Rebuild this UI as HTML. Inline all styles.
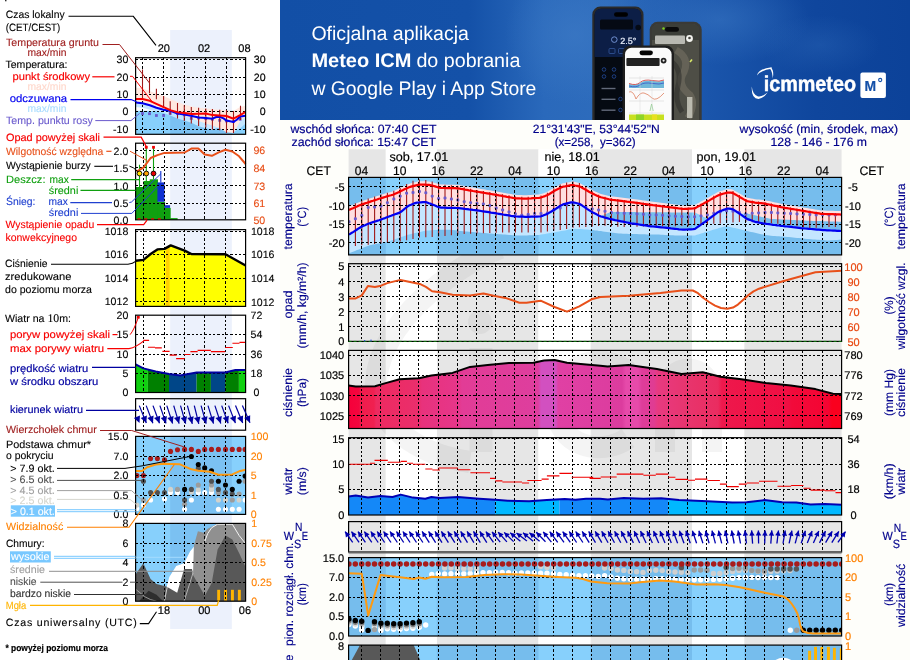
<!DOCTYPE html>
<html lang="pl"><head><meta charset="utf-8"><title>Meteogram ICM</title>
<style>
html,body{margin:0;padding:0;background:#fff;}
body{width:910px;height:660px;overflow:hidden;font-family:"Liberation Sans",sans-serif;}
svg{display:block;font-family:"Liberation Sans",sans-serif;will-change:transform;text-rendering:geometricPrecision;}
</style></head><body>
<svg width="910" height="660" viewBox="0 0 910 660">
<rect x="0" y="0" width="280" height="660" fill="#fff"/>
<rect x="5.2" y="0" width="1.2" height="1.3" fill="#000"/>
<rect x="170.2" y="30" width="61.6" height="599" fill="#ecf1fc"/>
<text x="163.8" y="51.9" font-size="11" fill="#000" text-anchor="middle" font-weight="normal"  stroke="#000" stroke-width="0.18">20</text>
<text x="204.1" y="51.9" font-size="11" fill="#000" text-anchor="middle" font-weight="normal"  stroke="#000" stroke-width="0.18">02</text>
<text x="244.4" y="51.9" font-size="11" fill="#000" text-anchor="middle" font-weight="normal"  stroke="#000" stroke-width="0.18">08</text>
<text x="163.9" y="614.4" font-size="11" fill="#000" text-anchor="middle" font-weight="normal"  stroke="#000" stroke-width="0.18">18</text>
<text x="204.3" y="614.4" font-size="11" fill="#000" text-anchor="middle" font-weight="normal"  stroke="#000" stroke-width="0.18">00</text>
<text x="244.9" y="614.4" font-size="11" fill="#000" text-anchor="middle" font-weight="normal"  stroke="#000" stroke-width="0.18">06</text>
<clipPath id="l1"><rect x="135.6" y="57.7" width="110.0" height="76.6"/></clipPath>
<g clip-path="url(#l1)">
<rect x="135.6" y="110.8" width="110.0" height="30" fill="#87d0fc"/>
<rect x="170.2" y="110.8" width="61.6" height="23.5" fill="#1040a0" opacity="0.1"/>
<path d="M135.5,102.5 L149.8,105.2 L163.6,109.8 L177.5,113.5 L192.0,116.0 L205.8,118.0 L219.7,116.8 L233.5,122.0 L245.8,115.7 L245.8,123.6 L240.1,128.2 L233.5,131.9 L227.6,131.5 L223.6,129.6 L219.7,127.2 L216.4,128.2 L212.4,129.6 L205.8,128.2 L198.6,126.3 L192.0,123.0 L184.3,120.6 L177.5,118.4 L170.9,115.7 L163.6,113.1 L149.8,109.8 L142.5,107.8 L135.5,107.1Z" fill="#c4e6ff"/>
<path d="M135.6,87.4 L142.5,88.4 L163.6,95.9 L170.9,99.2 L177.5,101.9 L184.3,104.5 L192.0,106.5 L198.6,107.8 L205.8,108.5 L212.4,109.1 L219.7,109.8 L226.5,110.4 L233.5,111.1 L240.1,107.1 L245.8,105.8 L245.8,116.4 L240.1,121.6 L233.5,132.9 L226.5,132.2 L219.7,128.2 L212.4,125.6 L205.8,123.6 L198.6,121.0 L192.0,118.4 L184.3,115.7 L177.5,114.0 L163.6,110.4 L149.8,105.8 L142.5,103.8 L135.5,103.2Z" fill="#ffe8e0"/>
</g>
<path d="M142.5,57.7V134.3M163.5,57.7V134.3M184.5,57.7V134.3M205.5,57.7V134.3M226.5,57.7V134.3M135.6,59.5H245.6M135.6,77.5H245.6M135.6,94.5H245.6M135.6,111.5H245.6M135.6,129.5H245.6" stroke="#000" stroke-width="1" stroke-dasharray="2.3 2" fill="none" shape-rendering="crispEdges"/>
<g clip-path="url(#l1)">
<rect x="141.1" y="112.1" width="2.8" height="2.8" fill="#6a5acd"/>
<rect x="148.1" y="112.3" width="2.8" height="2.8" fill="#6a5acd"/>
<rect x="155.0" y="114.1" width="2.8" height="2.8" fill="#6a5acd"/>
<rect x="162.2" y="114.1" width="2.8" height="2.8" fill="#6a5acd"/>
<rect x="168.8" y="112.1" width="2.8" height="2.8" fill="#6a5acd"/>
<rect x="176.1" y="112.1" width="2.8" height="2.8" fill="#6a5acd"/>
<rect x="182.9" y="113.4" width="2.8" height="2.8" fill="#6a5acd"/>
<rect x="189.9" y="117.0" width="2.8" height="2.8" fill="#6a5acd"/>
<rect x="197.2" y="116.6" width="2.8" height="2.8" fill="#6a5acd"/>
<rect x="204.4" y="117.3" width="2.8" height="2.8" fill="#6a5acd"/>
<rect x="211.0" y="117.9" width="2.8" height="2.8" fill="#6a5acd"/>
<rect x="218.3" y="118.9" width="2.8" height="2.8" fill="#6a5acd"/>
<rect x="225.1" y="119.6" width="2.8" height="2.8" fill="#6a5acd"/>
<rect x="232.1" y="120.0" width="2.8" height="2.8" fill="#6a5acd"/>
<rect x="238.7" y="117.9" width="2.8" height="2.8" fill="#6a5acd"/>
<path d="M142.5,69.6V98.2M149.5,78.1V93.3M156.4,88.7V99.2M163.6,95.9V107.1M170.2,101.2V114.4M177.5,102.9V118.4M184.3,105.2V121.0M191.3,106.9V123.6M198.6,107.8V125.9M205.8,108.5V127.6M212.4,109.1V129.6M219.7,109.8V130.2M226.5,110.0V132.9M233.5,111.1V132.9M240.5,105.8V120.1" stroke="#a01818" stroke-width="1.1" fill="none"/>
<path d="M135.5,102.5 L142.5,103.2 L149.8,105.2 L156.4,107.8 L163.6,109.8 L170.9,111.1 L177.5,113.5 L184.3,114.4 L192.0,116.0 L198.6,117.4 L205.8,118.0 L212.4,118.7 L216.4,117.0 L219.7,116.8 L223.6,118.4 L226.5,120.6 L233.5,122.0 L236.8,119.7 L240.1,116.4 L245.8,115.7" stroke="#0000f0" stroke-width="2" fill="none" stroke-linejoin="round"/>
<path d="M135.5,99.0 L142.5,99.0 L149.8,100.8 L156.4,103.8 L163.6,107.1 L170.9,110.4 L177.5,112.2 L184.3,113.1 L192.0,114.1 L198.6,113.7 L205.8,113.5 L212.4,115.1 L219.7,115.5 L226.5,116.0 L233.5,118.7 L240.1,115.1 L245.8,111.8" stroke="#f80000" stroke-width="2" fill="none" stroke-linejoin="round"/>
</g>
<rect x="135.6" y="57.7" width="110.0" height="76.6" fill="none" stroke="#000" stroke-width="1.2"/>
<text x="128.3" y="62.6" font-size="10.6" fill="#000" text-anchor="end" font-weight="normal" stroke="#000" stroke-width="0.1">30</text>
<text x="265.6" y="62.6" font-size="10.6" fill="#000" text-anchor="end" font-weight="normal"  stroke="#000" stroke-width="0.18">30</text>
<text x="128.3" y="80.8" font-size="10.6" fill="#000" text-anchor="end" font-weight="normal" stroke="#000" stroke-width="0.1">20</text>
<text x="265.6" y="80.8" font-size="10.6" fill="#000" text-anchor="end" font-weight="normal"  stroke="#000" stroke-width="0.18">20</text>
<text x="128.3" y="97.6" font-size="10.6" fill="#000" text-anchor="end" font-weight="normal" stroke="#000" stroke-width="0.1">10</text>
<text x="265.6" y="97.6" font-size="10.6" fill="#000" text-anchor="end" font-weight="normal"  stroke="#000" stroke-width="0.18">10</text>
<text x="128.3" y="114.8" font-size="10.6" fill="#000" text-anchor="end" font-weight="normal" stroke="#000" stroke-width="0.1">0</text>
<text x="265.6" y="114.8" font-size="10.6" fill="#000" text-anchor="end" font-weight="normal"  stroke="#000" stroke-width="0.18">0</text>
<text x="128.3" y="132.8" font-size="10.6" fill="#000" text-anchor="end" font-weight="normal" stroke="#000" stroke-width="0.1">-10</text>
<text x="265.6" y="132.8" font-size="10.6" fill="#000" text-anchor="end" font-weight="normal"  stroke="#000" stroke-width="0.18">-10</text>
<rect x="135.6" y="187.0" width="8.4" height="32.8" fill="#10a010"/>
<rect x="143.4" y="181.0" width="6.9" height="38.8" fill="#10a010"/>
<rect x="149.7" y="179.3" width="8.3" height="40.5" fill="#10a010"/>
<rect x="157.4" y="201.8" width="7.7" height="18.0" fill="#10a010"/>
<rect x="164.5" y="207.9" width="6.2" height="11.9" fill="#10a010"/>
<rect x="170.1" y="218.1" width="7.5" height="1.7" fill="#10a010"/>
<rect x="157.4" y="182.4" width="7.1" height="19.4" fill="#1030d0"/>
<rect x="164.5" y="205.2" width="5.6" height="2.7" fill="#1030d0"/>
<path d="M143.5,143.2V219.8M164.5,143.2V219.8M184.5,143.2V219.8M204.5,143.2V219.8M225.5,143.2V219.8M135.6,150.5H245.6M135.6,167.5H245.6M135.6,185.5H245.6M135.6,203.5H245.6" stroke="#000" stroke-width="1" stroke-dasharray="2.3 2" fill="none" shape-rendering="crispEdges"/>
<path d="M139.5,164.8V187M146.3,147.8V181M153.5,147.8V179.3" stroke="#10a010" stroke-width="1.1" fill="none"/>
<path d="M160.8,171.1V182.4" stroke="#1030d0" stroke-width="1.1" fill="none"/>
<path d="M136.6,171.6 L143.4,167.7 L150.6,158.0 L157.4,155.1 L164.5,152.9 L184.6,152.5 L191.4,148.6 L198.3,148.6 L204.7,154.6 L211.9,155.8 L218.7,152.4 L225.5,149.8 L232.3,151.5 L239.1,156.3 L245.6,164.0" stroke="#e8501a" stroke-width="2" fill="none" stroke-linejoin="round"/>
<rect x="144.9" y="145.9" width="2.8" height="2.8" fill="#f00000"/><rect x="152.1" y="145.9" width="2.8" height="2.8" fill="#f00000"/>
<circle cx="139.5" cy="173.5" r="2.4" fill="#ffe600" stroke="#000" stroke-width="0.9"/>
<circle cx="146.3" cy="173.5" r="2.4" fill="#ffa200" stroke="#000" stroke-width="0.9"/>
<circle cx="153.5" cy="173.5" r="2.4" fill="#e80000" stroke="#000" stroke-width="0.9"/>
<rect x="135.6" y="143.2" width="110.0" height="76.6" fill="none" stroke="#000" stroke-width="1.2"/>
<path d="M137.5,218.9H163" stroke="#f00000" stroke-width="1.3" stroke-dasharray="3 3.8" fill="none"/>
<text x="128.3" y="154.6" font-size="10.6" fill="#000" text-anchor="end" font-weight="normal" stroke="#000" stroke-width="0.1">2.0</text>
<text x="128.3" y="172.0" font-size="10.6" fill="#000" text-anchor="end" font-weight="normal" stroke="#000" stroke-width="0.1">1.5</text>
<text x="128.3" y="189.9" font-size="10.6" fill="#000" text-anchor="end" font-weight="normal" stroke="#000" stroke-width="0.1">1.0</text>
<text x="128.3" y="207.4" font-size="10.6" fill="#000" text-anchor="end" font-weight="normal" stroke="#000" stroke-width="0.1">0.5</text>
<text x="128.3" y="224.1" font-size="10.6" fill="#000" text-anchor="end" font-weight="normal" stroke="#000" stroke-width="0.1">0.0</text>
<text x="253.4" y="153.8" font-size="10.6" fill="#e84c14" text-anchor="start" font-weight="normal" stroke="#e84c14" stroke-width="0.1">96</text>
<text x="253.4" y="172.2" font-size="10.6" fill="#e84c14" text-anchor="start" font-weight="normal" stroke="#e84c14" stroke-width="0.1">84</text>
<text x="253.4" y="189.6" font-size="10.6" fill="#e84c14" text-anchor="start" font-weight="normal" stroke="#e84c14" stroke-width="0.1">73</text>
<text x="253.4" y="207.1" font-size="10.6" fill="#e84c14" text-anchor="start" font-weight="normal" stroke="#e84c14" stroke-width="0.1">61</text>
<text x="253.4" y="224.1" font-size="10.6" fill="#e84c14" text-anchor="start" font-weight="normal" stroke="#e84c14" stroke-width="0.1">50</text>
<path d="M135.6,260.8 L143.4,259.9 L150.6,254.0 L157.4,249.4 L164.5,248.9 L170.7,245.4 L184.6,250.6 L191.4,254.0 L225.5,254.3 L245.6,265.5 L245.6,306.4 L135.6,306.4Z" fill="#ffff00"/>
<path d="M165.9,248.3L169.6,246.2V306.4H165.9Z" fill="#ffd000"/>
<path d="M143.5,229.6V306.4M164.5,229.6V306.4M184.5,229.6V306.4M204.5,229.6V306.4M225.5,229.6V306.4M135.6,231.5H245.6M135.6,254.5H245.6M135.6,278.5H245.6M135.6,301.5H245.6" stroke="#000" stroke-width="1" stroke-dasharray="2.3 2" fill="none" shape-rendering="crispEdges"/>
<path d="M135.6,260.8 L143.4,259.9 L150.6,254.0 L157.4,249.4 L164.5,248.9 L170.7,245.4 L184.6,250.6 L191.4,254.0 L225.5,254.3 L245.6,265.5" stroke="#000" stroke-width="2.4" fill="none" stroke-linejoin="round"/>
<rect x="135.6" y="229.6" width="110.0" height="76.8" fill="none" stroke="#000" stroke-width="1.2"/>
<text x="128.3" y="234.8" font-size="10.6" fill="#000" text-anchor="end" font-weight="normal" stroke="#000" stroke-width="0.1">1018</text>
<text x="250.9" y="235.0" font-size="10.6" fill="#000" text-anchor="start" font-weight="normal" stroke="#000" stroke-width="0.1">1018</text>
<text x="128.3" y="258.1" font-size="10.6" fill="#000" text-anchor="end" font-weight="normal" stroke="#000" stroke-width="0.1">1016</text>
<text x="250.9" y="258.3" font-size="10.6" fill="#000" text-anchor="start" font-weight="normal" stroke="#000" stroke-width="0.1">1016</text>
<text x="128.3" y="281.9" font-size="10.6" fill="#000" text-anchor="end" font-weight="normal" stroke="#000" stroke-width="0.1">1014</text>
<text x="250.9" y="282.1" font-size="10.6" fill="#000" text-anchor="start" font-weight="normal" stroke="#000" stroke-width="0.1">1014</text>
<text x="128.3" y="305.3" font-size="10.6" fill="#000" text-anchor="end" font-weight="normal" stroke="#000" stroke-width="0.1">1012</text>
<text x="250.9" y="305.5" font-size="10.6" fill="#000" text-anchor="start" font-weight="normal" stroke="#000" stroke-width="0.1">1012</text>
<clipPath id="l4"><path d="M135.6,364.3 L143.4,368.4 L155.7,371.5 L169.0,374.1 L180.2,375.6 L196.6,372.5 L225.2,372.5 L235.4,370.0 L245.6,370.0 L245.6,392.5 L135.6,392.5Z"/></clipPath>
<g clip-path="url(#l4)">
<rect x="135.6" y="315.2" width="12.3" height="77.3" fill="#10d010"/>
<rect x="147.9" y="315.2" width="21.1" height="77.3" fill="#008000"/>
<rect x="169.0" y="315.2" width="27.6" height="77.3" fill="#004688"/>
<rect x="196.6" y="315.2" width="14.3" height="77.3" fill="#008000"/>
<rect x="210.9" y="315.2" width="14.3" height="77.3" fill="#004688"/>
<rect x="225.2" y="315.2" width="13.7" height="77.3" fill="#008000"/>
<rect x="238.9" y="315.2" width="6.7" height="77.3" fill="#10d010"/>
</g>
<path d="M143.5,315.2V392.5M164.5,315.2V392.5M184.5,315.2V392.5M204.5,315.2V392.5M225.5,315.2V392.5M135.6,334.5H245.6M135.6,354.5H245.6M135.6,373.5H245.6" stroke="#000" stroke-width="1" stroke-dasharray="2.3 2" fill="none" shape-rendering="crispEdges"/>
<path d="M135.6,364.3 L143.4,368.4 L155.7,371.5 L169.0,374.1 L180.2,375.6 L196.6,372.5 L225.2,372.5 L235.4,370.0 L245.6,370.0" stroke="#0000a0" stroke-width="2" fill="none" stroke-linejoin="round"/>
<path d="M143.4,340.4H149.1M147.9,347.2H155.0M155.0,347.9H161.8M162.4,351.4H169.6M169.6,355.1H176.7M176.1,358.6H184.7M184.3,354.5H190.4M190.4,351.6H197.6M197.6,350.4H210.9M210.9,351.6H225.2M225.2,347.5H232.8M232.4,343.2H239.5M239.5,342.4H245.6" stroke="#f00000" stroke-width="1.1" fill="none"/>
<rect x="136.9" y="316" width="2.8" height="2.6" fill="#f00000"/>
<rect x="135.6" y="315.2" width="110.0" height="77.3" fill="none" stroke="#000" stroke-width="1.2"/>
<text x="128.3" y="318.9" font-size="10.6" fill="#000" text-anchor="end" font-weight="normal" stroke="#000" stroke-width="0.1">20</text>
<text x="128.3" y="337.6" font-size="10.6" fill="#000" text-anchor="end" font-weight="normal" stroke="#000" stroke-width="0.1">15</text>
<text x="128.3" y="358.1" font-size="10.6" fill="#000" text-anchor="end" font-weight="normal" stroke="#000" stroke-width="0.1">10</text>
<text x="128.3" y="376.9" font-size="10.6" fill="#000" text-anchor="end" font-weight="normal" stroke="#000" stroke-width="0.1">5</text>
<text x="128.3" y="395.9" font-size="10.6" fill="#000" text-anchor="end" font-weight="normal" stroke="#000" stroke-width="0.1">0</text>
<text x="250.6" y="318.9" font-size="10.6" fill="#000" text-anchor="start" font-weight="normal" stroke="#000" stroke-width="0.1">72</text>
<text x="250.6" y="338.3" font-size="10.6" fill="#000" text-anchor="start" font-weight="normal" stroke="#000" stroke-width="0.1">54</text>
<text x="250.6" y="358.2" font-size="10.6" fill="#000" text-anchor="start" font-weight="normal" stroke="#000" stroke-width="0.1">36</text>
<text x="250.6" y="376.8" font-size="10.6" fill="#000" text-anchor="start" font-weight="normal" stroke="#000" stroke-width="0.1">18</text>
<text x="253.6" y="396.0" font-size="10.6" fill="#000" text-anchor="start" font-weight="normal" stroke="#000" stroke-width="0.1">0</text>
<path d="M143.5,398.7V430.2M164.5,398.7V430.2M184.5,398.7V430.2M204.5,398.7V430.2M225.5,398.7V430.2" stroke="#000" stroke-width="1" stroke-dasharray="2.3 2" fill="none" shape-rendering="crispEdges"/>
<rect x="135.6" y="398.7" width="110.0" height="31.5" fill="none" stroke="#000" stroke-width="1.2"/>
<path d="M139.5,423.0L133.9,418.0L140.0,415.5Z" fill="#0000a0"/>
<path d="M139.3,405.6L146.3,423.0" stroke="#0000a0" stroke-width="1.2"/>
<path d="M146.3,423.0L140.7,418.0L146.9,415.5Z" fill="#0000a0"/>
<path d="M146.2,405.6L152.9,423.2" stroke="#0000a0" stroke-width="1.2"/>
<path d="M152.9,423.2L147.4,418.0L153.6,415.6Z" fill="#0000a0"/>
<path d="M153.0,405.6L159.5,423.3" stroke="#0000a0" stroke-width="1.2"/>
<path d="M159.5,423.3L154.0,418.0L160.2,415.7Z" fill="#0000a0"/>
<path d="M159.9,405.6L166.0,423.4" stroke="#0000a0" stroke-width="1.2"/>
<path d="M166.0,423.4L160.7,418.0L166.9,415.9Z" fill="#0000a0"/>
<path d="M166.8,405.6L172.6,423.5" stroke="#0000a0" stroke-width="1.2"/>
<path d="M172.6,423.5L167.3,418.0L173.6,416.0Z" fill="#0000a0"/>
<path d="M173.7,405.6L179.1,423.6" stroke="#0000a0" stroke-width="1.2"/>
<path d="M179.1,423.6L174.0,418.0L180.3,416.1Z" fill="#0000a0"/>
<path d="M180.5,405.6L185.7,423.7" stroke="#0000a0" stroke-width="1.2"/>
<path d="M185.7,423.7L180.7,418.0L187.0,416.2Z" fill="#0000a0"/>
<path d="M187.4,405.6L192.3,423.8" stroke="#0000a0" stroke-width="1.2"/>
<path d="M192.3,423.8L187.3,418.0L193.7,416.3Z" fill="#0000a0"/>
<path d="M194.3,405.6L198.8,423.8" stroke="#0000a0" stroke-width="1.2"/>
<path d="M198.8,423.8L194.0,418.0L200.4,416.4Z" fill="#0000a0"/>
<path d="M201.1,405.6L206.1,423.7" stroke="#0000a0" stroke-width="1.2"/>
<path d="M206.1,423.7L201.1,418.0L207.5,416.3Z" fill="#0000a0"/>
<path d="M208.0,405.6L213.5,423.6" stroke="#0000a0" stroke-width="1.2"/>
<path d="M213.5,423.6L208.3,418.0L214.6,416.1Z" fill="#0000a0"/>
<path d="M214.9,405.6L220.8,423.5" stroke="#0000a0" stroke-width="1.2"/>
<path d="M220.8,423.5L215.5,418.0L221.8,416.0Z" fill="#0000a0"/>
<path d="M221.7,405.6L228.1,423.3" stroke="#0000a0" stroke-width="1.2"/>
<path d="M228.1,423.3L222.7,418.0L228.9,415.8Z" fill="#0000a0"/>
<path d="M228.6,405.6L235.4,423.1" stroke="#0000a0" stroke-width="1.2"/>
<path d="M235.4,423.1L229.9,418.0L236.0,415.6Z" fill="#0000a0"/>
<path d="M235.5,405.6L242.7,423.0" stroke="#0000a0" stroke-width="1.2"/>
<path d="M242.7,423.0L237.0,417.9L243.1,415.4Z" fill="#0000a0"/>
<path d="M242.4,405.6L250.0,422.8" stroke="#0000a0" stroke-width="1.2"/>
<path d="M250.0,422.8L244.2,417.9L250.2,415.2Z" fill="#0000a0"/>
<rect x="135.6" y="436.4" width="110.0" height="78.0" fill="#87d0fc"/>
<rect x="170.2" y="436.4" width="61.6" height="78.0" fill="#1040a0" opacity="0.1"/>
<clipPath id="l6"><rect x="135.6" y="436.4" width="110.0" height="78.0"/></clipPath>
<g clip-path="url(#l6)">
<circle cx="170.5" cy="492.6" r="2.55" fill="#fff"/>
<circle cx="177.5" cy="492.6" r="2.55" fill="#fff"/>
<circle cx="150.6" cy="500.0" r="2.55" fill="#fff"/>
<circle cx="164.5" cy="499.1" r="2.55" fill="#fff"/>
<circle cx="191.4" cy="500.0" r="2.55" fill="#fff"/>
<circle cx="198.3" cy="492.6" r="2.55" fill="#fff"/>
<circle cx="204.7" cy="492.6" r="2.55" fill="#fff"/>
<circle cx="211.5" cy="492.6" r="2.55" fill="#fff"/>
<circle cx="143.4" cy="505.1" r="2.55" fill="#fff"/>
<circle cx="136.9" cy="508.5" r="2.55" fill="#fff"/>
<circle cx="184.6" cy="509.3" r="2.55" fill="#fff"/>
<circle cx="218.4" cy="509.3" r="2.55" fill="#fff"/>
<circle cx="225.5" cy="509.3" r="2.55" fill="#fff"/>
<circle cx="232.3" cy="509.3" r="2.55" fill="#fff"/>
<circle cx="239.1" cy="509.3" r="2.55" fill="#fff"/>
<circle cx="245.1" cy="500.0" r="2.55" fill="#fff"/>
<circle cx="170.5" cy="489.4" r="2.55" fill="#d2d2cc"/>
<circle cx="198.3" cy="489.7" r="2.55" fill="#d2d2cc"/>
<circle cx="211.5" cy="489.4" r="2.55" fill="#d2d2cc"/>
<circle cx="218.4" cy="500.0" r="2.55" fill="#d2d2cc"/>
<circle cx="225.5" cy="500.0" r="2.55" fill="#d2d2cc"/>
<circle cx="239.1" cy="500.0" r="2.55" fill="#d2d2cc"/>
<circle cx="136.9" cy="505.1" r="2.55" fill="#d2d2cc"/>
<circle cx="191.4" cy="492.0" r="2.55" fill="#d2d2cc"/>
<circle cx="211.5" cy="487.5" r="2.55" fill="#d2d2cc"/>
<circle cx="143.4" cy="500.0" r="2.55" fill="#9c9c9c"/>
<circle cx="177.5" cy="489.4" r="2.55" fill="#9c9c9c"/>
<circle cx="198.3" cy="485.0" r="2.55" fill="#9c9c9c"/>
<circle cx="211.5" cy="485.0" r="2.55" fill="#9c9c9c"/>
<circle cx="218.4" cy="492.6" r="2.55" fill="#9c9c9c"/>
<circle cx="239.1" cy="494.0" r="2.55" fill="#9c9c9c"/>
<circle cx="184.6" cy="504.2" r="2.55" fill="#9c9c9c"/>
<circle cx="232.3" cy="500.0" r="2.55" fill="#9c9c9c"/>
<circle cx="245.1" cy="481.2" r="2.55" fill="#9c9c9c"/>
<circle cx="143.4" cy="481.2" r="2.55" fill="#505050"/>
<circle cx="150.6" cy="492.6" r="2.55" fill="#505050"/>
<circle cx="157.4" cy="492.6" r="2.55" fill="#505050"/>
<circle cx="164.5" cy="492.6" r="2.55" fill="#505050"/>
<circle cx="191.4" cy="489.4" r="2.55" fill="#505050"/>
<circle cx="211.5" cy="481.2" r="2.55" fill="#505050"/>
<circle cx="218.4" cy="489.4" r="2.55" fill="#505050"/>
<circle cx="225.5" cy="492.6" r="2.55" fill="#505050"/>
<circle cx="232.3" cy="494.0" r="2.55" fill="#505050"/>
<circle cx="184.6" cy="500.0" r="2.55" fill="#505050"/>
<circle cx="198.3" cy="468.4" r="2.55" fill="#505050"/>
<circle cx="191.4" cy="456.5" r="2.55" fill="#000"/>
<circle cx="198.3" cy="464.5" r="2.55" fill="#000"/>
<circle cx="204.7" cy="467.9" r="2.55" fill="#000"/>
<circle cx="211.5" cy="470.7" r="2.55" fill="#000"/>
<circle cx="218.4" cy="481.2" r="2.55" fill="#000"/>
<circle cx="225.5" cy="485.0" r="2.55" fill="#000"/>
<circle cx="232.3" cy="489.4" r="2.55" fill="#000"/>
<circle cx="239.1" cy="481.2" r="2.55" fill="#000"/>
<circle cx="245.1" cy="476.1" r="2.55" fill="#000"/>
<circle cx="184.6" cy="489.4" r="2.55" fill="#000"/>
<circle cx="136.9" cy="475.6" r="2.55" fill="#a81c1c"/>
<circle cx="143.4" cy="475.6" r="2.55" fill="#a81c1c"/>
<circle cx="150.6" cy="458.6" r="2.55" fill="#a81c1c"/>
<circle cx="157.4" cy="458.6" r="2.55" fill="#a81c1c"/>
<circle cx="164.5" cy="459.9" r="2.55" fill="#a81c1c"/>
<circle cx="170.5" cy="451.4" r="2.55" fill="#a81c1c"/>
<circle cx="177.5" cy="449.7" r="2.55" fill="#a81c1c"/>
<circle cx="184.6" cy="449.4" r="2.55" fill="#a81c1c"/>
<circle cx="191.4" cy="449.4" r="2.55" fill="#a81c1c"/>
<circle cx="198.3" cy="451.4" r="2.55" fill="#a81c1c"/>
<circle cx="204.7" cy="449.4" r="2.55" fill="#a81c1c"/>
<circle cx="211.5" cy="449.4" r="2.55" fill="#a81c1c"/>
<circle cx="218.4" cy="449.4" r="2.55" fill="#a81c1c"/>
<circle cx="225.5" cy="449.4" r="2.55" fill="#a81c1c"/>
<circle cx="232.3" cy="449.4" r="2.55" fill="#a81c1c"/>
<circle cx="239.1" cy="449.4" r="2.55" fill="#a81c1c"/>
<circle cx="245.1" cy="449.4" r="2.55" fill="#a81c1c"/>
</g>
<path d="M143.5,436.4V514.4M164.5,436.4V514.4M184.5,436.4V514.4M204.5,436.4V514.4M225.5,436.4V514.4M135.6,456.5H245.6M135.6,475.5H245.6M135.6,495.5H245.6" stroke="#000" stroke-width="1" stroke-dasharray="2.3 2" fill="none" shape-rendering="crispEdges"/>
<path d="M135.6,471.0 L142.0,471.0 L147.1,467.2 L155.7,464.5 L164.5,463.8 L179.5,464.2 L191.4,469.3 L198.3,470.7 L210.2,471.8 L218.4,474.7 L232.3,474.4 L239.1,471.3 L245.6,469.8" stroke="#ff9a10" stroke-width="2" fill="none" stroke-linejoin="round"/>
<rect x="135.6" y="436.4" width="110.0" height="78.0" fill="none" stroke="#000" stroke-width="1.2"/>
<text x="128.3" y="440.3" font-size="10.6" fill="#000" text-anchor="end" font-weight="normal" stroke="#000" stroke-width="0.1">15.0</text>
<text x="128.3" y="460.3" font-size="10.6" fill="#000" text-anchor="end" font-weight="normal" stroke="#000" stroke-width="0.1">7.0</text>
<text x="128.3" y="478.9" font-size="10.6" fill="#000" text-anchor="end" font-weight="normal" stroke="#000" stroke-width="0.1">2.0</text>
<text x="128.3" y="498.9" font-size="10.6" fill="#000" text-anchor="end" font-weight="normal" stroke="#000" stroke-width="0.1">0.5</text>
<text x="128.3" y="518.1" font-size="10.6" fill="#000" text-anchor="end" font-weight="normal" stroke="#000" stroke-width="0.1">0.0</text>
<text x="250.7" y="440.1" font-size="10.6" fill="#ff8000" text-anchor="start" font-weight="normal" stroke="#ff8000" stroke-width="0.1">100</text>
<text x="250.7" y="460.2" font-size="10.6" fill="#ff8000" text-anchor="start" font-weight="normal" stroke="#ff8000" stroke-width="0.1">20</text>
<text x="250.7" y="479.3" font-size="10.6" fill="#ff8000" text-anchor="start" font-weight="normal" stroke="#ff8000" stroke-width="0.1">5</text>
<text x="250.7" y="499.2" font-size="10.6" fill="#ff8000" text-anchor="start" font-weight="normal" stroke="#ff8000" stroke-width="0.1">1</text>
<text x="250.7" y="518.1" font-size="10.6" fill="#ff8000" text-anchor="start" font-weight="normal" stroke="#ff8000" stroke-width="0.1">0</text>
<clipPath id="l7"><rect x="135.6" y="523.4" width="110.0" height="77.8"/></clipPath>
<g clip-path="url(#l7)">
<rect x="135.6" y="523.4" width="110.0" height="77.8" fill="#87d0fc"/>
<rect x="170.2" y="523.4" width="61.6" height="77.8" fill="#1040a0" opacity="0.1"/>
<path d="M164.4,601.6 L166.4,587.8 L169.3,577.0 L176.2,566.1 L184.1,563.2 L190.0,551.4 L194.9,545.5 L203.8,543.9 L207.7,533.6 L211.7,527.7 L217.6,524.2 L245.5,524.2 L245.5,601.6Z" fill="#fff"/>
<path d="M193.0,601.6 L193.0,575.0 L193.9,545.5 L197.9,531.3 L203.8,532.7 L207.7,528.7 L213.6,525.8 L217.6,523.4 L245.5,523.4 L245.5,601.6Z" fill="#909090"/>
<path d="M135.2,601.6 L135.2,575.0 L143.3,563.2 L150.6,578.9 L156.5,583.9 L166.4,586.4 L170.3,588.8 L177.2,592.7 L184.1,569.1 L192.0,569.1 L193.0,575.0 L204.8,595.7 L211.7,582.9 L217.6,549.4 L225.5,535.6 L232.3,539.5 L239.2,553.3 L245.5,567.1 L245.5,601.6Z" fill="#585858"/>
<path d="M138.8,601.6 L148.6,590.8 L156.5,594.7 L163.4,601.6Z" fill="#2e2e2e"/>
<path d="M203.8,543.9 L207.7,533.6 L211.7,527.7 L217.6,524.2 L232.3,524.2 L239.2,535.6 L245.5,543.5" stroke="#fff" stroke-width="0.9" fill="none"/>
<path d="M135.2,588.8 L144.7,596.7 L150.6,599.6 L156.5,601.2" stroke="#b0b0b0" stroke-width="0.8" fill="none"/>
<path d="M184.1,601.2 L188.0,588.8 L193.0,573.0" stroke="#c8c8c8" stroke-width="0.8" fill="none"/>
<path d="M164.4,601.2 L167.3,586.8" stroke="#e8e8e8" stroke-width="0.8" fill="none"/>
<rect x="217.2" y="589.8" width="2.9" height="11" fill="#ffb400"/>
<rect x="224.1" y="589.8" width="2.9" height="11" fill="#ffb400"/>
<rect x="231.0" y="589.8" width="2.9" height="11" fill="#ffb400"/>
<rect x="237.9" y="589.8" width="2.9" height="11" fill="#ffb400"/>
</g>
<path d="M143.5,523.4V601.2M164.5,523.4V601.2M184.5,523.4V601.2M204.5,523.4V601.2M225.5,523.4V601.2M135.6,543.5H245.6M135.6,562.5H245.6M135.6,582.5H245.6" stroke="#000" stroke-width="1" stroke-dasharray="2.3 2" fill="none" shape-rendering="crispEdges"/>
<rect x="135.6" y="523.4" width="110.0" height="77.8" fill="none" stroke="#000" stroke-width="1.2"/>
<text x="128.3" y="527.3" font-size="10.6" fill="#000" text-anchor="end" font-weight="normal" stroke="#000" stroke-width="0.1">8</text>
<text x="128.3" y="546.9" font-size="10.6" fill="#000" text-anchor="end" font-weight="normal" stroke="#000" stroke-width="0.1">6</text>
<text x="128.3" y="566.1" font-size="10.6" fill="#000" text-anchor="end" font-weight="normal" stroke="#000" stroke-width="0.1">4</text>
<text x="128.3" y="585.9" font-size="10.6" fill="#000" text-anchor="end" font-weight="normal" stroke="#000" stroke-width="0.1">2</text>
<text x="128.3" y="604.8" font-size="10.6" fill="#000" text-anchor="end" font-weight="normal" stroke="#000" stroke-width="0.1">0</text>
<text x="251.2" y="527.3" font-size="10.6" fill="#ff8000" text-anchor="start" font-weight="normal" stroke="#ff8000" stroke-width="0.1">1</text>
<text x="251.2" y="547.0" font-size="10.6" fill="#ff8000" text-anchor="start" font-weight="normal" stroke="#ff8000" stroke-width="0.1">0.75</text>
<text x="251.2" y="566.3" font-size="10.6" fill="#ff8000" text-anchor="start" font-weight="normal" stroke="#ff8000" stroke-width="0.1">0.5</text>
<text x="251.2" y="586.0" font-size="10.6" fill="#ff8000" text-anchor="start" font-weight="normal" stroke="#ff8000" stroke-width="0.1">0.25</text>
<text x="251.2" y="604.7" font-size="10.6" fill="#ff8000" text-anchor="start" font-weight="normal" stroke="#ff8000" stroke-width="0.1">0</text>
<text x="5.8" y="18.0" font-size="10.6" fill="#000" text-anchor="start" font-weight="normal" textLength="58.8" lengthAdjust="spacingAndGlyphs"  stroke="#000" stroke-width="0.1">Czas lokalny</text>
<text x="5.8" y="30.5" font-size="10.6" fill="#000" text-anchor="start" font-weight="normal" textLength="54.5" lengthAdjust="spacingAndGlyphs"  stroke="#000" stroke-width="0.1">(CET/CEST)</text>
<path d="M68.5,16.3H133.3L156,45.4" stroke="#000" stroke-width="1.1" fill="none"/>
<text x="6.0" y="45.8" font-size="10.6" fill="#a02020" text-anchor="start" font-weight="normal" textLength="93.0" lengthAdjust="spacingAndGlyphs"  stroke="#a02020" stroke-width="0.1">Temperatura gruntu</text>
<text x="27.5" y="56.0" font-size="10.6" fill="#a02020" text-anchor="start" font-weight="normal" textLength="39.0" lengthAdjust="spacingAndGlyphs"  stroke="#a02020" stroke-width="0.1">max/min</text>
<path d="M102.5,44.5H119.5L149.5,83" stroke="#a02020" stroke-width="1.0" fill="none"/>
<text x="5.5" y="68.0" font-size="10.6" fill="#000" text-anchor="start" font-weight="normal" textLength="62.0" lengthAdjust="spacingAndGlyphs"  stroke="#000" stroke-width="0.1">Temperatura:</text>
<text x="12.5" y="80.2" font-size="10.6" fill="#f80000" text-anchor="start" font-weight="normal" textLength="77.5" lengthAdjust="spacingAndGlyphs"  stroke="#f80000" stroke-width="0.16">punkt środkowy</text>
<path d="M92.3,76.8H114.5" stroke="#f80000" stroke-width="1.2" fill="none"/>
<path d="M130,76.3H132.5L152.8,102.5" stroke="#f80000" stroke-width="1.0" fill="none"/>
<text x="27.5" y="89.7" font-size="10.6" fill="#ffd8cc" text-anchor="start" font-weight="normal" textLength="39.0" lengthAdjust="spacingAndGlyphs"  stroke="#ffd8cc" stroke-width="0.1">max/min</text>
<text x="9.7" y="101.8" font-size="10.6" fill="#0000f0" text-anchor="start" font-weight="normal" textLength="57.5" lengthAdjust="spacingAndGlyphs"  stroke="#0000f0" stroke-width="0.16">odczuwana</text>
<path d="M70.5,99.6H131L136.5,101.8" stroke="#0000f0" stroke-width="1.1" fill="none"/>
<text x="27.5" y="112.2" font-size="10.6" fill="#a8dcff" text-anchor="start" font-weight="normal" textLength="39.0" lengthAdjust="spacingAndGlyphs"  stroke="#a8dcff" stroke-width="0.1">max/min</text>
<text x="6.0" y="123.8" font-size="10.6" fill="#6a5acd" text-anchor="start" font-weight="normal" textLength="86.8" lengthAdjust="spacingAndGlyphs"  stroke="#6a5acd" stroke-width="0.1">Temp. punktu rosy</text>
<path d="M95.3,120.6H131L139.5,113.5" stroke="#6a5acd" stroke-width="1.0" fill="none"/>
<text x="6.0" y="140.8" font-size="10.6" fill="#f80000" text-anchor="start" font-weight="normal" textLength="94.0" lengthAdjust="spacingAndGlyphs"  stroke="#f80000" stroke-width="0.16">Opad powyżej skali</text>
<path d="M103.5,137.2H141.2L146.3,146.6" stroke="#f80000" stroke-width="1.2" fill="none"/>
<text x="6.0" y="154.7" font-size="10.6" fill="#e8501a" text-anchor="start" font-weight="normal" textLength="97.3" lengthAdjust="spacingAndGlyphs"  stroke="#e8501a" stroke-width="0.1">Wilgotność względna</text>
<path d="M106.3,151.3H111.5" stroke="#e8501a" stroke-width="1.2" fill="none"/>
<path d="M130,151.2L147,160.5" stroke="#e8501a" stroke-width="1.0" fill="none"/>
<text x="6.0" y="169.3" font-size="10.6" fill="#000" text-anchor="start" font-weight="normal" textLength="84.8" lengthAdjust="spacingAndGlyphs"  stroke="#000" stroke-width="0.1">Wystąpienie burzy</text>
<path d="M94.3,166.3H113" stroke="#000" stroke-width="1.1" fill="none"/>
<path d="M129.5,166.2Q133,166.6 137.8,171.6" stroke="#000" stroke-width="1.0" fill="none"/>
<text x="6.0" y="183.0" font-size="10.6" fill="#10a010" text-anchor="start" font-weight="normal" textLength="39.5" lengthAdjust="spacingAndGlyphs"  stroke="#10a010" stroke-width="0.1">Deszcz:</text>
<text x="49.5" y="183.0" font-size="10.6" fill="#10a010" text-anchor="start" font-weight="normal" textLength="19.3" lengthAdjust="spacingAndGlyphs"  stroke="#10a010" stroke-width="0.1">max</text>
<path d="M71.2,179.6H139.5" stroke="#10a010" stroke-width="1.1" fill="none"/>
<text x="48.8" y="193.8" font-size="10.6" fill="#10a010" text-anchor="start" font-weight="normal" textLength="29.5" lengthAdjust="spacingAndGlyphs"  stroke="#10a010" stroke-width="0.1">średni</text>
<path d="M80.5,190.4H135.6" stroke="#10a010" stroke-width="1.1" fill="none"/>
<text x="6.0" y="205.2" font-size="10.6" fill="#2040d0" text-anchor="start" font-weight="normal" textLength="29.5" lengthAdjust="spacingAndGlyphs"  stroke="#2040d0" stroke-width="0.1">Śnieg:</text>
<text x="48.5" y="205.2" font-size="10.6" fill="#2040d0" text-anchor="start" font-weight="normal" textLength="19.3" lengthAdjust="spacingAndGlyphs"  stroke="#2040d0" stroke-width="0.1">max</text>
<path d="M70.3,202.6H112" stroke="#2040d0" stroke-width="1.1" fill="none"/>
<path d="M129.3,202.6L131.5,202L160.8,173.8" stroke="#2040d0" stroke-width="1.0" fill="none"/>
<text x="48.8" y="215.8" font-size="10.6" fill="#2040d0" text-anchor="start" font-weight="normal" textLength="29.5" lengthAdjust="spacingAndGlyphs"  stroke="#2040d0" stroke-width="0.1">średni</text>
<path d="M81,213.4H131.8L158.2,186.1" stroke="#2040d0" stroke-width="1.0" fill="none"/>
<text x="5.5" y="228.0" font-size="10.6" fill="#f80000" text-anchor="start" font-weight="normal" textLength="88.7" lengthAdjust="spacingAndGlyphs"  stroke="#f80000" stroke-width="0.1">Wystąpienie opadu</text>
<text x="5.5" y="241.0" font-size="10.6" fill="#f80000" text-anchor="start" font-weight="normal" textLength="71.5" lengthAdjust="spacingAndGlyphs"  stroke="#f80000" stroke-width="0.1">konwekcyjnego</text>
<path d="M97,224.6H143.7L147.1,220.2" stroke="#f80000" stroke-width="1.2" fill="none"/>
<text x="5.0" y="267.2" font-size="10.6" fill="#000" text-anchor="start" font-weight="normal" textLength="42.5" lengthAdjust="spacingAndGlyphs"  stroke="#000" stroke-width="0.1">Ciśnienie</text>
<text x="5.0" y="280.2" font-size="10.6" fill="#000" text-anchor="start" font-weight="normal" textLength="66.5" lengthAdjust="spacingAndGlyphs"  stroke="#000" stroke-width="0.1">zredukowane</text>
<text x="5.0" y="293.0" font-size="10.6" fill="#000" text-anchor="start" font-weight="normal" textLength="87.0" lengthAdjust="spacingAndGlyphs"  stroke="#000" stroke-width="0.1">do poziomu morza</text>
<path d="M51,264.3H128Q133,263.6 135.6,261.4" stroke="#000" stroke-width="1.1" fill="none"/>
<text x="5" y="322.2" font-size="10.6" fill="#000" stroke="#000" stroke-width="0.1">Wiatr na <tspan style="font-family:Liberation Serif,serif" font-size="11.8">10</tspan>m:</text>
<text x="10.0" y="338.0" font-size="10.6" fill="#f80000" text-anchor="start" font-weight="normal" textLength="100.0" lengthAdjust="spacingAndGlyphs"  stroke="#f80000" stroke-width="0.16">poryw powyżej skali</text>
<path d="M112.5,334.6H117.5" stroke="#f80000" stroke-width="1.2" fill="none"/>
<path d="M130.1,334.7Q134,330 138.3,317.5" stroke="#f80000" stroke-width="1.0" fill="none"/>
<text x="10.0" y="351.8" font-size="10.6" fill="#f80000" text-anchor="start" font-weight="normal" textLength="94.2" lengthAdjust="spacingAndGlyphs"  stroke="#f80000" stroke-width="0.16">max porywy wiatru</text>
<path d="M107.3,348.6H129Q136,347.5 144.4,340.4" stroke="#f80000" stroke-width="1.1" fill="none"/>
<text x="10.0" y="371.8" font-size="10.6" fill="#0000a0" text-anchor="start" font-weight="normal" textLength="78.3" lengthAdjust="spacingAndGlyphs"  stroke="#0000a0" stroke-width="0.16">prędkość wiatru</text>
<path d="M92,367.4H135.6" stroke="#0000a0" stroke-width="1.2" fill="none"/>
<text x="10.0" y="384.7" font-size="10.6" fill="#0000a0" text-anchor="start" font-weight="normal" textLength="88.3" lengthAdjust="spacingAndGlyphs"  stroke="#0000a0" stroke-width="0.16">w środku obszaru</text>
<text x="10.0" y="413.0" font-size="10.6" fill="#0000a0" text-anchor="start" font-weight="normal" textLength="73.0" lengthAdjust="spacingAndGlyphs"  stroke="#0000a0" stroke-width="0.16">kierunek wiatru</text>
<path d="M86,410.3H139" stroke="#0000a0" stroke-width="1.2" fill="none"/>
<text x="6.0" y="433.0" font-size="10.6" fill="#a02020" text-anchor="start" font-weight="normal" textLength="90.7" lengthAdjust="spacingAndGlyphs"  stroke="#a02020" stroke-width="0.1">Wierzchołek chmur</text>
<path d="M100,430.5H131.7L183.8,446.8" stroke="#a02020" stroke-width="1.0" fill="none"/>
<text x="6.0" y="448.0" font-size="10.6" fill="#000" text-anchor="start" font-weight="normal" textLength="85.0" lengthAdjust="spacingAndGlyphs"  stroke="#000" stroke-width="0.1">Podstawa chmur*</text>
<text x="6.0" y="459.3" font-size="10.6" fill="#000" text-anchor="start" font-weight="normal" textLength="47.5" lengthAdjust="spacingAndGlyphs"  stroke="#000" stroke-width="0.1">o pokryciu</text>
<text x="10.3" y="471.8" font-size="10.6" fill="#000" text-anchor="start" font-weight="normal" textLength="44.5" lengthAdjust="spacingAndGlyphs"  stroke="#000" stroke-width="0.1">&gt; 7.9 okt.</text>
<path d="M57,468.4H125L142,465.9L189.7,456.5" stroke="#000" stroke-width="1.0" fill="none"/>
<text x="10.3" y="483.3" font-size="10.6" fill="#505050" text-anchor="start" font-weight="normal" textLength="44.5" lengthAdjust="spacingAndGlyphs"  stroke="#505050" stroke-width="0.1">&gt; 6.5 okt.</text>
<path d="M57,480.4H142" stroke="#505050" stroke-width="1.0" fill="none"/>
<text x="10.3" y="493.8" font-size="10.6" fill="#a0a0a0" text-anchor="start" font-weight="normal" textLength="44.5" lengthAdjust="spacingAndGlyphs"  stroke="#a0a0a0" stroke-width="0.1">&gt; 4.5 okt.</text>
<path d="M57,490.6H131.5L142,500" stroke="#a0a0a0" stroke-width="1.0" fill="none"/>
<text x="10.3" y="503.8" font-size="10.6" fill="#d6d6ce" text-anchor="start" font-weight="normal" textLength="44.5" lengthAdjust="spacingAndGlyphs"  stroke="#d6d6ce" stroke-width="0.1">&gt; 2.5 okt.</text>
<path d="M57,499.4H130L137,505" stroke="#d6d6ce" stroke-width="1.0" fill="none"/>
<rect x="10.8" y="505.3" width="44.2" height="11.4" fill="#78c8ff"/>
<text x="10.8" y="515.0" font-size="10.6" fill="#fff" text-anchor="start" font-weight="normal" textLength="44.0" lengthAdjust="spacingAndGlyphs"  stroke="#fff" stroke-width="0.1">&gt; 0.1 okt.</text>
<path d="M57,509.7H135.6M57,511.7H135.6" stroke="#78c8ff" stroke-width="1.0" fill="none"/>
<text x="6.0" y="529.7" font-size="10.6" fill="#ff8000" text-anchor="start" font-weight="normal" textLength="57.3" lengthAdjust="spacingAndGlyphs"  stroke="#ff8000" stroke-width="0.1">Widzialność</text>
<path d="M67,527.2H129L174.4,464.5" stroke="#ff8000" stroke-width="1.1" fill="none"/>
<text x="6.0" y="546.8" font-size="10.6" fill="#000" text-anchor="start" font-weight="normal" textLength="38.5" lengthAdjust="spacingAndGlyphs"  stroke="#000" stroke-width="0.1">Chmury:</text>
<rect x="10" y="551.3" width="40.8" height="11.2" fill="#78c8ff"/>
<text x="11.0" y="560.2" font-size="10.6" fill="#fff" text-anchor="start" font-weight="normal" textLength="38.5" lengthAdjust="spacingAndGlyphs"  stroke="#fff" stroke-width="0.1">wysokie</text>
<path d="M54,556.3H135.6M54,558.3H135.6" stroke="#78c8ff" stroke-width="1.0" fill="none"/>
<path d="M135.6,557.3H184" stroke="#a8dcff" stroke-width="0.9" fill="none"/>
<text x="10.0" y="573.0" font-size="10.6" fill="#a0a0a0" text-anchor="start" font-weight="normal" textLength="35.0" lengthAdjust="spacingAndGlyphs"  stroke="#a0a0a0" stroke-width="0.1">średnie</text>
<path d="M49,571.3H193" stroke="#909090" stroke-width="1.0" fill="none"/>
<text x="10.0" y="585.0" font-size="10.6" fill="#505050" text-anchor="start" font-weight="normal" textLength="26.5" lengthAdjust="spacingAndGlyphs"  stroke="#505050" stroke-width="0.1">niskie</text>
<path d="M40.3,582.2H122.5M130,582.2H136" stroke="#505050" stroke-width="1.0" fill="none"/>
<text x="10.0" y="596.8" font-size="10.6" fill="#303030" text-anchor="start" font-weight="normal" textLength="61.0" lengthAdjust="spacingAndGlyphs"  stroke="#303030" stroke-width="0.1">bardzo niskie</text>
<path d="M74,594.5H150" stroke="#303030" stroke-width="1.0" fill="none"/>
<text x="5.8" y="609.0" font-size="10.6" fill="#ffb400" text-anchor="start" font-weight="normal" textLength="20.4" lengthAdjust="spacingAndGlyphs"  stroke="#ffb400" stroke-width="0.1">Mgła</text>
<path d="M30,605.4H217.2L218.6,600.6" stroke="#ffb400" stroke-width="1.3" fill="none"/>
<text x="5.8" y="626.2" font-size="10.6" fill="#000" stroke="#000" stroke-width="0.1" textLength="131" lengthAdjust="spacing">Czas uniwersalny (UTC)</text>
<path d="M139.8,623.6H148.6L156.5,611.8" stroke="#000" stroke-width="1.1" fill="none"/>
<text x="5.4" y="650.8" font-size="9.3" fill="#000" text-anchor="start" font-weight="bold" textLength="102.6" lengthAdjust="spacingAndGlyphs"  stroke="#000" stroke-width="0.18">* powyżej poziomu morza</text>
<rect x="280" y="0" width="630" height="660" fill="#fefefa"/>
<rect x="348.6" y="149.3" width="37.2" height="511" fill="#e6e6e6"/>
<rect x="436.8" y="149.3" width="101.7" height="511" fill="#e6e6e6"/>
<rect x="590.4" y="149.3" width="101.6" height="511" fill="#e6e6e6"/>
<rect x="744.2" y="149.3" width="97.4" height="511" fill="#e6e6e6"/>
<rect x="385.8" y="149.3" width="51.0" height="511" fill="#ffffff"/>
<rect x="538.5" y="149.3" width="51.9" height="511" fill="#ffffff"/>
<rect x="692.0" y="149.3" width="52.2" height="511" fill="#ffffff"/>
<g opacity="0.04" fill="none" stroke="#000" stroke-linecap="butt"><clipPath id="cWM"><rect x="348.6" y="255" width="493.0" height="300"/></clipPath><g clip-path="url(#cWM)"><path d="M500,248C450,268 382,322 376,380C372,425 420,455 470,462" stroke-width="22"/><circle cx="480" cy="322" r="12" fill="#000" stroke="none"/><path d="M481,348V452" stroke-width="23"/><path d="M628,372C600,350 556,365 556,405C556,445 600,458 628,438" stroke-width="22"/><path d="M665,452V395C665,360 712,360 712,395V452" stroke-width="20"/></g></g>
<text x="363.4" y="132.6" font-size="12" fill="#00008b" text-anchor="middle" font-weight="normal" textLength="146.0" lengthAdjust="spacingAndGlyphs"  stroke="#00008b" stroke-width="0.18">wschód słońca: 07:40 CET</text>
<text x="363.8" y="145.6" font-size="12" fill="#00008b" text-anchor="middle" font-weight="normal" textLength="144.5" lengthAdjust="spacingAndGlyphs"  stroke="#00008b" stroke-width="0.18">zachód słońca: 15:47 CET</text>
<text x="596.2" y="132.6" font-size="12" fill="#00008b" text-anchor="middle" font-weight="normal" textLength="127.0" lengthAdjust="spacingAndGlyphs"  stroke="#00008b" stroke-width="0.18">21°31'43"E, 53°44'52"N</text>
<text x="595.2" y="145.6" font-size="12" fill="#00008b" text-anchor="middle" font-weight="normal" textLength="81.0" lengthAdjust="spacingAndGlyphs" xml:space="preserve" stroke="#00008b" stroke-width="0.18">(x=258,  y=362)</text>
<text x="818.8" y="132.6" font-size="12" fill="#00008b" text-anchor="middle" font-weight="normal" textLength="158.5" lengthAdjust="spacingAndGlyphs"  stroke="#00008b" stroke-width="0.18">wysokość (min, środek, max)</text>
<text x="818.8" y="145.6" font-size="12" fill="#00008b" text-anchor="middle" font-weight="normal" textLength="96.5" lengthAdjust="spacingAndGlyphs"  stroke="#00008b" stroke-width="0.18">128 - 146 - 176 m</text>
<text x="306.6" y="174.5" font-size="12.5" fill="#000" text-anchor="start" font-weight="normal" textLength="24.2" lengthAdjust="spacingAndGlyphs"  stroke="#000" stroke-width="0.18">CET</text>
<text x="859.4" y="174.5" font-size="12.5" fill="#000" text-anchor="start" font-weight="normal" textLength="24.6" lengthAdjust="spacingAndGlyphs"  stroke="#000" stroke-width="0.18">CET</text>
<text x="361.4" y="174.5" font-size="12.5" fill="#000" text-anchor="middle" font-weight="normal" textLength="13.4" lengthAdjust="spacingAndGlyphs"  stroke="#000" stroke-width="0.18">04</text>
<text x="399.8" y="174.5" font-size="12.5" fill="#000" text-anchor="middle" font-weight="normal" textLength="13.4" lengthAdjust="spacingAndGlyphs"  stroke="#000" stroke-width="0.18">10</text>
<text x="438.2" y="174.5" font-size="12.5" fill="#000" text-anchor="middle" font-weight="normal" textLength="13.4" lengthAdjust="spacingAndGlyphs"  stroke="#000" stroke-width="0.18">16</text>
<text x="476.6" y="174.5" font-size="12.5" fill="#000" text-anchor="middle" font-weight="normal" textLength="13.4" lengthAdjust="spacingAndGlyphs"  stroke="#000" stroke-width="0.18">22</text>
<text x="515.0" y="174.5" font-size="12.5" fill="#000" text-anchor="middle" font-weight="normal" textLength="13.4" lengthAdjust="spacingAndGlyphs"  stroke="#000" stroke-width="0.18">04</text>
<text x="553.4" y="174.5" font-size="12.5" fill="#000" text-anchor="middle" font-weight="normal" textLength="13.4" lengthAdjust="spacingAndGlyphs"  stroke="#000" stroke-width="0.18">10</text>
<text x="591.8" y="174.5" font-size="12.5" fill="#000" text-anchor="middle" font-weight="normal" textLength="13.4" lengthAdjust="spacingAndGlyphs"  stroke="#000" stroke-width="0.18">16</text>
<text x="630.2" y="174.5" font-size="12.5" fill="#000" text-anchor="middle" font-weight="normal" textLength="13.4" lengthAdjust="spacingAndGlyphs"  stroke="#000" stroke-width="0.18">22</text>
<text x="668.6" y="174.5" font-size="12.5" fill="#000" text-anchor="middle" font-weight="normal" textLength="13.4" lengthAdjust="spacingAndGlyphs"  stroke="#000" stroke-width="0.18">04</text>
<text x="707.0" y="174.5" font-size="12.5" fill="#000" text-anchor="middle" font-weight="normal" textLength="13.4" lengthAdjust="spacingAndGlyphs"  stroke="#000" stroke-width="0.18">10</text>
<text x="745.4" y="174.5" font-size="12.5" fill="#000" text-anchor="middle" font-weight="normal" textLength="13.4" lengthAdjust="spacingAndGlyphs"  stroke="#000" stroke-width="0.18">16</text>
<text x="783.8" y="174.5" font-size="12.5" fill="#000" text-anchor="middle" font-weight="normal" textLength="13.4" lengthAdjust="spacingAndGlyphs"  stroke="#000" stroke-width="0.18">22</text>
<text x="822.2" y="174.5" font-size="12.5" fill="#000" text-anchor="middle" font-weight="normal" textLength="13.4" lengthAdjust="spacingAndGlyphs"  stroke="#000" stroke-width="0.18">04</text>
<text x="389.4" y="161.3" font-size="12.6" fill="#000" text-anchor="start" font-weight="normal" textLength="58.8" lengthAdjust="spacingAndGlyphs"  stroke="#000" stroke-width="0.18">sob, 17.01</text>
<text x="544.4" y="161.3" font-size="12.6" fill="#000" text-anchor="start" font-weight="normal" textLength="55.3" lengthAdjust="spacingAndGlyphs"  stroke="#000" stroke-width="0.18">nie, 18.01</text>
<text x="696.5" y="161.3" font-size="12.6" fill="#000" text-anchor="start" font-weight="normal" textLength="59.5" lengthAdjust="spacingAndGlyphs"  stroke="#000" stroke-width="0.18">pon, 19.01</text>
<clipPath id="cT"><rect x="348.6" y="177.4" width="493.0" height="77.5"/></clipPath>
<g clip-path="url(#cT)">
<rect x="348.6" y="177.4" width="493.0" height="77.5" fill="#87d0fc"/>
<rect x="348.6" y="177.4" width="37.2" height="77.5" fill="#003a80" opacity="0.12"/>
<rect x="436.8" y="177.4" width="101.7" height="77.5" fill="#003a80" opacity="0.12"/>
<rect x="590.4" y="177.4" width="101.6" height="77.5" fill="#003a80" opacity="0.12"/>
<rect x="744.2" y="177.4" width="97.4" height="77.5" fill="#003a80" opacity="0.12"/>
<path d="M349.0,234.6 L351.0,233.3 L353.0,232.1 L355.0,230.8 L357.0,229.5 L359.0,228.2 L361.0,227.0 L363.0,226.0 L365.0,225.2 L367.0,224.3 L369.0,223.5 L371.0,222.7 L373.0,222.1 L375.0,221.5 L377.0,220.9 L379.0,220.3 L381.0,219.6 L383.0,218.8 L385.0,218.1 L387.0,217.3 L389.0,216.5 L391.0,215.8 L393.0,215.0 L395.0,214.3 L397.0,213.6 L399.0,212.9 L401.0,211.8 L403.0,210.2 L405.0,208.5 L407.0,206.8 L409.0,205.6 L411.0,204.8 L413.0,203.9 L415.0,203.1 L417.0,202.6 L419.0,202.5 L421.0,202.3 L423.0,202.1 L425.0,202.0 L427.0,202.4 L429.0,203.2 L431.0,203.9 L433.0,204.7 L435.0,205.5 L437.0,206.4 L439.0,207.2 L441.0,207.6 L443.0,207.7 L445.0,207.7 L447.0,207.8 L449.0,207.8 L451.0,207.8 L453.0,207.9 L455.0,207.9 L457.0,208.0 L459.0,208.2 L461.0,208.4 L463.0,208.6 L465.0,208.9 L467.0,209.1 L469.0,209.4 L471.0,209.6 L473.0,209.9 L475.0,210.1 L477.0,210.4 L479.0,210.7 L481.0,211.0 L483.0,211.3 L485.0,211.6 L487.0,211.9 L489.0,212.2 L491.0,212.6 L493.0,212.9 L495.0,213.2 L497.0,213.5 L499.0,213.8 L501.0,214.1 L503.0,214.5 L505.0,214.8 L507.0,215.1 L509.0,215.4 L511.0,215.8 L513.0,216.1 L515.0,216.4 L517.0,216.5 L519.0,216.6 L521.0,216.6 L523.0,216.7 L525.0,216.8 L527.0,216.8 L529.0,216.8 L531.0,216.7 L533.0,216.7 L535.0,216.6 L537.0,216.6 L539.0,216.5 L541.0,216.3 L543.0,215.6 L545.0,214.8 L547.0,214.1 L549.0,212.9 L551.0,211.7 L553.0,210.5 L555.0,209.3 L557.0,208.0 L559.0,206.7 L561.0,205.4 L563.0,204.4 L565.0,203.9 L567.0,203.4 L569.0,202.9 L571.0,202.4 L573.0,202.3 L575.0,202.8 L577.0,203.3 L579.0,203.8 L581.0,204.7 L583.0,206.1 L585.0,207.4 L587.0,208.8 L589.0,210.1 L591.0,211.4 L593.0,212.6 L595.0,213.6 L597.0,214.6 L599.0,215.7 L601.0,216.5 L603.0,217.0 L605.0,217.6 L607.0,218.1 L609.0,218.7 L611.0,219.2 L613.0,219.6 L615.0,220.1 L617.0,220.5 L619.0,220.9 L621.0,221.3 L623.0,221.7 L625.0,222.1 L627.0,222.5 L629.0,222.9 L631.0,223.3 L633.0,223.6 L635.0,223.9 L637.0,224.2 L639.0,224.5 L641.0,224.8 L643.0,225.1 L645.0,225.4 L647.0,225.7 L649.0,226.1 L651.0,226.3 L653.0,226.5 L655.0,226.7 L657.0,226.9 L659.0,227.1 L661.0,227.3 L663.0,227.5 L665.0,227.7 L667.0,227.9 L669.0,228.1 L671.0,228.4 L673.0,228.6 L675.0,228.8 L677.0,229.0 L679.0,229.3 L681.0,229.5 L683.0,229.7 L685.0,229.6 L687.0,229.5 L689.0,229.4 L691.0,229.3 L693.0,229.2 L695.0,228.8 L697.0,227.4 L699.0,226.0 L701.0,224.6 L703.0,223.2 L705.0,221.8 L707.0,220.3 L709.0,218.8 L711.0,217.3 L713.0,215.8 L715.0,214.3 L717.0,212.8 L719.0,211.6 L721.0,210.9 L723.0,210.1 L725.0,209.4 L727.0,208.6 L729.0,208.7 L731.0,208.9 L733.0,209.4 L735.0,210.7 L737.0,212.0 L739.0,213.3 L741.0,214.7 L743.0,216.1 L745.0,217.5 L747.0,218.9 L749.0,219.6 L751.0,220.3 L753.0,221.1 L755.0,221.8 L757.0,222.2 L759.0,222.6 L761.0,223.0 L763.0,223.4 L765.0,223.7 L767.0,224.0 L769.0,224.2 L771.0,224.5 L773.0,224.8 L775.0,225.0 L777.0,225.3 L779.0,225.5 L781.0,225.8 L783.0,226.0 L785.0,226.3 L787.0,226.5 L789.0,226.7 L791.0,226.9 L793.0,227.2 L795.0,227.4 L797.0,227.6 L799.0,227.8 L801.0,228.1 L803.0,228.3 L805.0,228.5 L807.0,228.6 L809.0,228.8 L811.0,229.0 L813.0,229.2 L815.0,229.4 L817.0,229.6 L819.0,229.7 L821.0,229.9 L823.0,230.1 L825.0,230.2 L827.0,230.3 L829.0,230.4 L831.0,230.5 L833.0,230.6 L835.0,230.7 L837.0,230.8 L839.0,230.9 L841.0,231.0 L841.0,239.5 L839.0,239.7 L837.0,239.9 L835.0,240.0 L833.0,240.2 L831.0,240.3 L829.0,240.5 L827.0,240.4 L825.0,240.2 L823.0,240.1 L821.0,239.9 L819.0,239.8 L817.0,239.7 L815.0,239.5 L813.0,239.4 L811.0,239.2 L809.0,239.1 L807.0,238.9 L805.0,238.7 L803.0,238.5 L801.0,238.3 L799.0,238.1 L797.0,237.9 L795.0,237.7 L793.0,237.5 L791.0,237.3 L789.0,237.1 L787.0,236.9 L785.0,236.8 L783.0,236.6 L781.0,236.5 L779.0,236.3 L777.0,236.2 L775.0,236.0 L773.0,235.9 L771.0,235.7 L769.0,235.5 L767.0,235.2 L765.0,234.8 L763.0,234.5 L761.0,234.2 L759.0,233.8 L757.0,233.3 L755.0,232.8 L753.0,232.3 L751.0,231.9 L749.0,231.4 L747.0,230.9 L745.0,230.4 L743.0,230.0 L741.0,229.5 L739.0,229.0 L737.0,228.6 L735.0,228.1 L733.0,227.7 L731.0,227.2 L729.0,226.8 L727.0,226.3 L725.0,226.4 L723.0,227.0 L721.0,227.5 L719.0,228.1 L717.0,228.7 L715.0,229.3 L713.0,229.8 L711.0,230.4 L709.0,231.0 L707.0,231.7 L705.0,232.3 L703.0,232.9 L701.0,233.6 L699.0,234.2 L697.0,234.8 L695.0,235.5 L693.0,235.6 L691.0,235.6 L689.0,235.6 L687.0,235.6 L685.0,235.6 L683.0,235.6 L681.0,235.6 L679.0,235.6 L677.0,235.5 L675.0,235.4 L673.0,235.3 L671.0,235.2 L669.0,235.1 L667.0,235.0 L665.0,234.9 L663.0,234.8 L661.0,234.7 L659.0,234.6 L657.0,234.6 L655.0,234.5 L653.0,234.5 L651.0,234.4 L649.0,234.4 L647.0,234.4 L645.0,234.3 L643.0,234.3 L641.0,234.2 L639.0,234.2 L637.0,234.1 L635.0,234.1 L633.0,234.0 L631.0,233.9 L629.0,233.9 L627.0,233.8 L625.0,233.8 L623.0,233.7 L621.0,233.6 L619.0,233.5 L617.0,233.2 L615.0,233.0 L613.0,232.7 L611.0,232.5 L609.0,232.2 L607.0,231.9 L605.0,231.7 L603.0,231.4 L601.0,231.1 L599.0,230.9 L597.0,230.6 L595.0,230.4 L593.0,230.1 L591.0,229.9 L589.0,229.7 L587.0,229.5 L585.0,229.4 L583.0,229.3 L581.0,229.1 L579.0,229.0 L577.0,228.9 L575.0,228.8 L573.0,228.9 L571.0,229.3 L569.0,229.6 L567.0,230.0 L565.0,230.4 L563.0,230.7 L561.0,231.1 L559.0,231.5 L557.0,231.8 L555.0,232.2 L553.0,232.5 L551.0,232.8 L549.0,233.2 L547.0,233.5 L545.0,233.9 L543.0,234.2 L541.0,234.6 L539.0,234.9 L537.0,235.0 L535.0,235.1 L533.0,235.2 L531.0,235.2 L529.0,235.3 L527.0,235.4 L525.0,235.4 L523.0,235.5 L521.0,235.5 L519.0,235.6 L517.0,235.5 L515.0,235.3 L513.0,235.2 L511.0,235.0 L509.0,234.9 L507.0,234.8 L505.0,234.6 L503.0,234.5 L501.0,234.3 L499.0,234.2 L497.0,234.0 L495.0,233.9 L493.0,233.7 L491.0,233.5 L489.0,233.4 L487.0,233.2 L485.0,233.1 L483.0,232.9 L481.0,232.7 L479.0,232.6 L477.0,232.4 L475.0,232.2 L473.0,232.1 L471.0,231.9 L469.0,231.7 L467.0,231.6 L465.0,231.4 L463.0,231.2 L461.0,231.1 L459.0,230.9 L457.0,230.6 L455.0,230.3 L453.0,230.1 L451.0,229.8 L449.0,229.7 L447.0,229.7 L445.0,229.7 L443.0,229.7 L441.0,229.7 L439.0,229.8 L437.0,229.9 L435.0,230.0 L433.0,230.1 L431.0,230.3 L429.0,230.4 L427.0,230.5 L425.0,230.8 L423.0,231.3 L421.0,231.7 L419.0,232.2 L417.0,232.6 L415.0,233.0 L413.0,233.5 L411.0,233.9 L409.0,234.4 L407.0,235.0 L405.0,235.7 L403.0,236.4 L401.0,237.1 L399.0,237.8 L397.0,238.5 L395.0,239.2 L393.0,239.9 L391.0,240.6 L389.0,241.3 L387.0,241.8 L385.0,242.2 L383.0,242.6 L381.0,243.0 L379.0,243.4 L377.0,243.8 L375.0,244.2 L373.0,244.6 L371.0,245.0 L369.0,245.4 L367.0,246.2 L365.0,247.0 L363.0,247.8 L361.0,248.6 L359.0,249.4 L357.0,250.1 L355.0,250.9 L353.0,251.7 L351.0,252.5 L349.0,253.3Z" fill="#c4e6ff"/>
<path d="M349.0,206.5 L351.0,205.6 L353.0,204.8 L355.0,203.9 L357.0,203.1 L359.0,202.2 L361.0,201.4 L363.0,200.7 L365.0,200.0 L367.0,199.4 L369.0,198.7 L371.0,198.0 L373.0,197.4 L375.0,196.7 L377.0,196.1 L379.0,195.4 L381.0,194.8 L383.0,194.2 L385.0,193.6 L387.0,193.0 L389.0,192.4 L391.0,191.9 L393.0,191.3 L395.0,190.4 L397.0,189.5 L399.0,188.6 L401.0,187.6 L403.0,186.7 L405.0,185.7 L407.0,184.8 L409.0,183.9 L411.0,183.2 L413.0,182.7 L415.0,182.2 L417.0,181.7 L419.0,181.2 L421.0,181.2 L423.0,181.2 L425.0,181.3 L427.0,181.4 L429.0,181.5 L431.0,181.9 L433.0,182.4 L435.0,183.0 L437.0,183.6 L439.0,184.2 L441.0,184.5 L443.0,184.6 L445.0,184.6 L447.0,184.7 L449.0,184.7 L451.0,184.7 L453.0,184.8 L455.0,184.8 L457.0,184.9 L459.0,185.1 L461.0,185.5 L463.0,185.8 L465.0,186.2 L467.0,186.5 L469.0,186.9 L471.0,187.2 L473.0,187.6 L475.0,187.9 L477.0,188.3 L479.0,188.6 L481.0,188.9 L483.0,189.3 L485.0,189.6 L487.0,189.9 L489.0,190.3 L491.0,190.6 L493.0,190.9 L495.0,191.3 L497.0,191.6 L499.0,192.0 L501.0,192.3 L503.0,192.7 L505.0,193.0 L507.0,193.4 L509.0,193.7 L511.0,194.1 L513.0,194.5 L515.0,194.8 L517.0,195.0 L519.0,195.0 L521.0,195.1 L523.0,195.2 L525.0,195.2 L527.0,195.3 L529.0,195.1 L531.0,195.0 L533.0,194.8 L535.0,194.7 L537.0,194.6 L539.0,194.4 L541.0,194.1 L543.0,193.4 L545.0,192.7 L547.0,191.9 L549.0,190.8 L551.0,189.6 L553.0,188.4 L555.0,187.2 L557.0,186.2 L559.0,185.2 L561.0,184.1 L563.0,183.3 L565.0,183.0 L567.0,182.6 L569.0,182.2 L571.0,181.8 L573.0,181.6 L575.0,182.1 L577.0,182.5 L579.0,182.9 L581.0,183.7 L583.0,184.9 L585.0,186.0 L587.0,187.1 L589.0,188.3 L591.0,189.4 L593.0,190.4 L595.0,191.4 L597.0,192.3 L599.0,193.2 L601.0,193.9 L603.0,194.4 L605.0,194.9 L607.0,195.4 L609.0,195.9 L611.0,196.3 L613.0,196.6 L615.0,196.8 L617.0,197.1 L619.0,197.3 L621.0,197.5 L623.0,197.8 L625.0,198.0 L627.0,198.3 L629.0,198.5 L631.0,198.8 L633.0,199.0 L635.0,199.3 L637.0,199.6 L639.0,199.8 L641.0,200.1 L643.0,200.4 L645.0,200.6 L647.0,200.9 L649.0,201.2 L651.0,201.4 L653.0,201.7 L655.0,201.9 L657.0,202.2 L659.0,202.4 L661.0,202.7 L663.0,202.9 L665.0,203.2 L667.0,203.4 L669.0,203.7 L671.0,203.9 L673.0,204.2 L675.0,204.5 L677.0,204.8 L679.0,205.1 L681.0,205.3 L683.0,205.6 L685.0,205.5 L687.0,205.4 L689.0,205.3 L691.0,205.2 L693.0,205.1 L695.0,204.8 L697.0,203.7 L699.0,202.7 L701.0,201.6 L703.0,200.5 L705.0,199.4 L707.0,198.3 L709.0,197.2 L711.0,196.0 L713.0,194.8 L715.0,193.7 L717.0,192.5 L719.0,191.6 L721.0,191.0 L723.0,190.4 L725.0,189.8 L727.0,189.2 L729.0,189.3 L731.0,189.3 L733.0,189.7 L735.0,190.9 L737.0,192.0 L739.0,193.2 L741.0,194.3 L743.0,195.5 L745.0,196.7 L747.0,197.7 L749.0,198.1 L751.0,198.5 L753.0,198.8 L755.0,199.2 L757.0,199.4 L759.0,199.6 L761.0,199.8 L763.0,200.0 L765.0,200.2 L767.0,200.7 L769.0,201.1 L771.0,201.5 L773.0,202.0 L775.0,202.4 L777.0,202.8 L779.0,203.2 L781.0,203.7 L783.0,204.1 L785.0,204.5 L787.0,204.8 L789.0,205.1 L791.0,205.5 L793.0,205.8 L795.0,206.1 L797.0,206.5 L799.0,206.8 L801.0,207.1 L803.0,207.5 L805.0,207.8 L807.0,208.1 L809.0,208.4 L811.0,208.8 L813.0,209.1 L815.0,209.4 L817.0,209.7 L819.0,210.0 L821.0,210.4 L823.0,210.5 L825.0,210.6 L827.0,210.7 L829.0,210.7 L831.0,210.8 L833.0,210.8 L835.0,210.9 L837.0,211.0 L839.0,211.0 L841.0,211.1 L841.0,221.8 L839.0,221.7 L837.0,221.6 L835.0,221.6 L833.0,221.5 L831.0,221.5 L829.0,221.4 L827.0,221.3 L825.0,221.3 L823.0,221.2 L821.0,221.1 L819.0,221.1 L817.0,221.0 L815.0,221.0 L813.0,220.9 L811.0,220.8 L809.0,220.8 L807.0,220.7 L805.0,220.6 L803.0,220.5 L801.0,220.4 L799.0,220.2 L797.0,220.2 L795.0,220.1 L793.0,220.0 L791.0,219.9 L789.0,219.8 L787.0,219.7 L785.0,219.6 L783.0,219.5 L781.0,219.4 L779.0,219.2 L777.0,219.2 L775.0,219.1 L773.0,219.0 L771.0,218.9 L769.0,218.6 L767.0,218.1 L765.0,217.6 L763.0,217.2 L761.0,216.7 L759.0,216.3 L757.0,215.8 L755.0,215.3 L753.0,214.9 L751.0,214.4 L749.0,214.0 L747.0,213.5 L745.0,213.6 L743.0,213.7 L741.0,213.8 L739.0,213.3 L737.0,212.0 L735.0,210.7 L733.0,209.4 L731.0,208.9 L729.0,208.7 L727.0,208.6 L725.0,209.3 L723.0,210.1 L721.0,210.9 L719.0,211.6 L717.0,212.5 L715.0,213.5 L713.0,214.5 L711.0,215.5 L709.0,216.5 L707.0,217.5 L705.0,217.5 L703.0,216.5 L701.0,215.5 L699.0,214.5 L697.0,213.5 L695.0,212.5 L693.0,212.5 L691.0,212.5 L689.0,212.5 L687.0,212.5 L685.0,212.4 L683.0,212.4 L681.0,212.4 L679.0,212.4 L677.0,212.4 L675.0,212.4 L673.0,212.4 L671.0,212.4 L669.0,212.3 L667.0,212.3 L665.0,212.3 L663.0,212.3 L661.0,212.3 L659.0,212.3 L657.0,212.3 L655.0,212.3 L653.0,212.2 L651.0,212.2 L649.0,212.2 L647.0,212.2 L645.0,212.2 L643.0,212.2 L641.0,212.2 L639.0,212.2 L637.0,212.2 L635.0,212.1 L633.0,212.1 L631.0,212.1 L629.0,212.1 L627.0,212.1 L625.0,212.1 L623.0,212.1 L621.0,212.1 L619.0,212.0 L617.0,212.0 L615.0,212.0 L613.0,212.0 L611.0,212.0 L609.0,212.8 L607.0,213.5 L605.0,214.3 L603.0,215.1 L601.0,215.8 L599.0,215.7 L597.0,214.6 L595.0,213.6 L593.0,212.6 L591.0,211.4 L589.0,210.1 L587.0,208.8 L585.0,207.4 L583.0,206.1 L581.0,204.7 L579.0,203.8 L577.0,203.3 L575.0,202.8 L573.0,202.3 L571.0,202.4 L569.0,202.9 L567.0,203.4 L565.0,203.9 L563.0,204.4 L561.0,205.4 L559.0,206.7 L557.0,208.0 L555.0,209.3 L553.0,210.5 L551.0,211.7 L549.0,212.9 L547.0,214.1 L545.0,214.8 L543.0,215.6 L541.0,216.3 L539.0,216.5 L537.0,216.6 L535.0,216.6 L533.0,216.7 L531.0,216.7 L529.0,216.8 L527.0,216.8 L525.0,216.8 L523.0,216.7 L521.0,216.6 L519.0,216.6 L517.0,216.5 L515.0,216.4 L513.0,216.1 L511.0,215.8 L509.0,215.4 L507.0,215.1 L505.0,214.8 L503.0,214.5 L501.0,214.1 L499.0,213.8 L497.0,213.5 L495.0,213.2 L493.0,212.9 L491.0,212.6 L489.0,212.2 L487.0,211.9 L485.0,211.6 L483.0,211.3 L481.0,211.0 L479.0,210.7 L477.0,210.4 L475.0,210.1 L473.0,209.9 L471.0,209.6 L469.0,209.4 L467.0,209.1 L465.0,208.9 L463.0,208.6 L461.0,208.4 L459.0,208.2 L457.0,208.0 L455.0,207.9 L453.0,207.9 L451.0,207.8 L449.0,207.8 L447.0,207.8 L445.0,207.7 L443.0,207.7 L441.0,207.6 L439.0,207.2 L437.0,206.4 L435.0,205.5 L433.0,204.7 L431.0,203.9 L429.0,203.2 L427.0,202.4 L425.0,202.0 L423.0,202.1 L421.0,202.3 L419.0,202.5 L417.0,202.6 L415.0,203.1 L413.0,203.9 L411.0,204.8 L409.0,205.6 L407.0,206.8 L405.0,208.5 L403.0,210.2 L401.0,211.8 L399.0,212.9 L397.0,213.6 L395.0,214.3 L393.0,215.0 L391.0,215.8 L389.0,216.5 L387.0,217.3 L385.0,218.1 L383.0,218.8 L381.0,219.6 L379.0,220.3 L377.0,220.9 L375.0,221.5 L373.0,222.1 L371.0,222.7 L369.0,223.5 L367.0,224.3 L365.0,225.2 L363.0,226.0 L361.0,227.0 L359.0,228.2 L357.0,229.5 L355.0,230.8 L353.0,232.1 L351.0,233.3 L349.0,234.6Z" fill="#ffdfe0"/>
<path d="M355.4,203.2V246.0M361.8,200.6V245.3M368.2,198.5V244.7M374.6,196.5V244.0M381.0,194.5V243.4M387.4,192.7V242.8M393.8,190.8V242.1M400.2,187.9V241.5M406.6,184.0V240.2M413.0,180.8V238.9M419.4,179.4V237.6M425.8,180.1V237.2M432.2,181.5V236.9M438.6,183.9V236.6M445.0,184.8V235.9M451.4,185.3V235.2M457.8,185.8V234.5M464.2,187.3V234.0M470.6,188.8V233.8M477.0,189.9V233.5M483.4,190.9V233.3M489.8,192.0V233.0M496.2,193.1V232.8M502.6,194.2V232.6M509.0,195.3V232.6M515.4,196.5V232.6M521.8,196.7V232.6M528.2,196.8V232.6M534.6,196.3V232.6M541.0,195.6V232.5M547.4,192.8V231.6M553.8,188.3V230.8M560.2,184.4V230.0M566.6,182.5V228.9M573.0,181.5V227.8M579.4,182.9V227.3M585.8,186.9V226.9M592.2,191.2V226.6M598.6,194.8V226.1M605.0,196.8V225.7M611.4,198.3V226.3M617.8,199.1V226.8M624.2,199.9V226.9M630.6,200.7V226.8M637.0,201.6V226.7M643.4,202.4V226.6M649.8,203.3V226.5M656.2,204.1V226.4M662.6,204.9V226.3M669.0,205.8V226.3M675.4,206.7V226.2M681.8,207.6V226.1M688.2,207.5V226.0M694.6,207.2V225.3M701.0,203.7V224.4M707.4,199.8V224.1M713.8,195.7V223.8M720.2,192.1V223.5M726.6,190.1V223.0M733.0,190.9V222.5M739.4,194.9V222.0M745.8,199.0V222.1M752.2,200.6V222.3M758.6,201.5V222.5M765.0,202.2V222.9M771.4,203.6V223.3M777.8,205.0V223.8M784.2,206.3V224.3M790.6,207.4V224.8M797.0,208.5V225.9M803.4,209.6V226.9M809.8,210.7V228.0M816.2,211.7V227.7M822.6,212.7V227.4M829.0,212.9V227.1M835.4,213.1V227.0" stroke="#a01818" stroke-width="1.1" fill="none"/>
<rect x="347.5" y="220.3" width="3" height="3" rx="1.1" fill="#6a5acd"/>
<rect x="353.9" y="217.3" width="3" height="3" rx="1.1" fill="#6a5acd"/>
<rect x="360.3" y="214.0" width="3" height="3" rx="1.1" fill="#6a5acd"/>
<rect x="366.7" y="205.9" width="3" height="3" rx="1.1" fill="#6a5acd"/>
<rect x="373.1" y="205.5" width="3" height="3" rx="1.1" fill="#6a5acd"/>
<rect x="379.5" y="204.5" width="3" height="3" rx="1.1" fill="#6a5acd"/>
<rect x="385.9" y="201.2" width="3" height="3" rx="1.1" fill="#6a5acd"/>
<rect x="392.3" y="197.6" width="3" height="3" rx="1.1" fill="#6a5acd"/>
<rect x="398.7" y="194.7" width="3" height="3" rx="1.1" fill="#6a5acd"/>
<rect x="405.1" y="191.7" width="3" height="3" rx="1.1" fill="#6a5acd"/>
<rect x="411.5" y="191.1" width="3" height="3" rx="1.1" fill="#6a5acd"/>
<rect x="417.9" y="190.1" width="3" height="3" rx="1.1" fill="#6a5acd"/>
<rect x="424.3" y="191.3" width="3" height="3" rx="1.1" fill="#6a5acd"/>
<rect x="430.7" y="194.7" width="3" height="3" rx="1.1" fill="#6a5acd"/>
<rect x="437.1" y="197.0" width="3" height="3" rx="1.1" fill="#6a5acd"/>
<rect x="443.5" y="196.6" width="3" height="3" rx="1.1" fill="#6a5acd"/>
<rect x="449.9" y="197.6" width="3" height="3" rx="1.1" fill="#6a5acd"/>
<rect x="456.3" y="198.6" width="3" height="3" rx="1.1" fill="#6a5acd"/>
<rect x="462.7" y="200.2" width="3" height="3" rx="1.1" fill="#6a5acd"/>
<rect x="469.1" y="201.2" width="3" height="3" rx="1.1" fill="#6a5acd"/>
<rect x="475.5" y="201.9" width="3" height="3" rx="1.1" fill="#6a5acd"/>
<rect x="481.9" y="202.5" width="3" height="3" rx="1.1" fill="#6a5acd"/>
<rect x="488.3" y="204.1" width="3" height="3" rx="1.1" fill="#6a5acd"/>
<rect x="494.7" y="206.5" width="3" height="3" rx="1.1" fill="#6a5acd"/>
<rect x="501.1" y="208.5" width="3" height="3" rx="1.1" fill="#6a5acd"/>
<rect x="507.5" y="210.4" width="3" height="3" rx="1.1" fill="#6a5acd"/>
<rect x="513.9" y="212.4" width="3" height="3" rx="1.1" fill="#6a5acd"/>
<rect x="520.3" y="213.8" width="3" height="3" rx="1.1" fill="#6a5acd"/>
<rect x="526.7" y="213.0" width="3" height="3" rx="1.1" fill="#6a5acd"/>
<rect x="533.1" y="212.0" width="3" height="3" rx="1.1" fill="#6a5acd"/>
<rect x="539.5" y="212.0" width="3" height="3" rx="1.1" fill="#6a5acd"/>
<rect x="545.9" y="211.4" width="3" height="3" rx="1.1" fill="#6a5acd"/>
<rect x="552.3" y="208.5" width="3" height="3" rx="1.1" fill="#6a5acd"/>
<rect x="558.7" y="206.5" width="3" height="3" rx="1.1" fill="#6a5acd"/>
<rect x="565.1" y="203.5" width="3" height="3" rx="1.1" fill="#6a5acd"/>
<rect x="571.5" y="202.5" width="3" height="3" rx="1.1" fill="#6a5acd"/>
<rect x="577.9" y="203.1" width="3" height="3" rx="1.1" fill="#6a5acd"/>
<rect x="584.3" y="205.5" width="3" height="3" rx="1.1" fill="#6a5acd"/>
<rect x="590.7" y="207.5" width="3" height="3" rx="1.1" fill="#6a5acd"/>
<rect x="597.1" y="208.5" width="3" height="3" rx="1.1" fill="#6a5acd"/>
<rect x="603.5" y="209.8" width="3" height="3" rx="1.1" fill="#6a5acd"/>
<rect x="609.9" y="211.0" width="3" height="3" rx="1.1" fill="#6a5acd"/>
<rect x="616.3" y="211.4" width="3" height="3" rx="1.1" fill="#6a5acd"/>
<rect x="622.7" y="211.8" width="3" height="3" rx="1.1" fill="#6a5acd"/>
<rect x="629.1" y="212.0" width="3" height="3" rx="1.1" fill="#6a5acd"/>
<rect x="635.5" y="212.4" width="3" height="3" rx="1.1" fill="#6a5acd"/>
<rect x="641.9" y="212.8" width="3" height="3" rx="1.1" fill="#6a5acd"/>
<rect x="648.3" y="213.4" width="3" height="3" rx="1.1" fill="#6a5acd"/>
<rect x="654.7" y="213.4" width="3" height="3" rx="1.1" fill="#6a5acd"/>
<rect x="661.1" y="213.8" width="3" height="3" rx="1.1" fill="#6a5acd"/>
<rect x="667.5" y="214.4" width="3" height="3" rx="1.1" fill="#6a5acd"/>
<rect x="673.9" y="214.8" width="3" height="3" rx="1.1" fill="#6a5acd"/>
<rect x="680.3" y="215.0" width="3" height="3" rx="1.1" fill="#6a5acd"/>
<rect x="686.7" y="215.3" width="3" height="3" rx="1.1" fill="#6a5acd"/>
<rect x="693.1" y="215.3" width="3" height="3" rx="1.1" fill="#6a5acd"/>
<rect x="699.5" y="214.4" width="3" height="3" rx="1.1" fill="#6a5acd"/>
<rect x="705.9" y="213.4" width="3" height="3" rx="1.1" fill="#6a5acd"/>
<rect x="712.3" y="211.8" width="3" height="3" rx="1.1" fill="#6a5acd"/>
<rect x="718.7" y="210.4" width="3" height="3" rx="1.1" fill="#6a5acd"/>
<rect x="725.1" y="209.4" width="3" height="3" rx="1.1" fill="#6a5acd"/>
<rect x="731.5" y="209.8" width="3" height="3" rx="1.1" fill="#6a5acd"/>
<rect x="737.9" y="211.0" width="3" height="3" rx="1.1" fill="#6a5acd"/>
<rect x="744.3" y="212.4" width="3" height="3" rx="1.1" fill="#6a5acd"/>
<rect x="750.7" y="211.8" width="3" height="3" rx="1.1" fill="#6a5acd"/>
<rect x="757.1" y="211.4" width="3" height="3" rx="1.1" fill="#6a5acd"/>
<rect x="763.5" y="211.0" width="3" height="3" rx="1.1" fill="#6a5acd"/>
<rect x="769.9" y="211.0" width="3" height="3" rx="1.1" fill="#6a5acd"/>
<rect x="776.3" y="211.4" width="3" height="3" rx="1.1" fill="#6a5acd"/>
<rect x="782.7" y="211.8" width="3" height="3" rx="1.1" fill="#6a5acd"/>
<rect x="789.1" y="212.0" width="3" height="3" rx="1.1" fill="#6a5acd"/>
<rect x="795.5" y="212.4" width="3" height="3" rx="1.1" fill="#6a5acd"/>
<rect x="801.9" y="212.8" width="3" height="3" rx="1.1" fill="#6a5acd"/>
<rect x="808.3" y="213.0" width="3" height="3" rx="1.1" fill="#6a5acd"/>
<rect x="814.7" y="213.4" width="3" height="3" rx="1.1" fill="#6a5acd"/>
<rect x="821.1" y="213.4" width="3" height="3" rx="1.1" fill="#6a5acd"/>
<rect x="827.5" y="213.4" width="3" height="3" rx="1.1" fill="#6a5acd"/>
<rect x="833.9" y="213.4" width="3" height="3" rx="1.1" fill="#6a5acd"/>
<rect x="840.3" y="213.4" width="3" height="3" rx="1.1" fill="#6a5acd"/>
</g>
<path d="M361.5,177.4V254.9M380.5,177.4V254.9M399.5,177.4V254.9M418.5,177.4V254.9M438.5,177.4V254.9M457.5,177.4V254.9M476.5,177.4V254.9M495.5,177.4V254.9M514.5,177.4V254.9M534.5,177.4V254.9M553.5,177.4V254.9M572.5,177.4V254.9M591.5,177.4V254.9M610.5,177.4V254.9M630.5,177.4V254.9M649.5,177.4V254.9M668.5,177.4V254.9M687.5,177.4V254.9M706.5,177.4V254.9M726.5,177.4V254.9M745.5,177.4V254.9M764.5,177.4V254.9M783.5,177.4V254.9M802.5,177.4V254.9M822.5,177.4V254.9M348.6,186.5H841.6M348.6,205.5H841.6M348.6,224.5H841.6M348.6,242.5H841.6" stroke="#000" stroke-width="1" stroke-dasharray="2.3 2" fill="none" shape-rendering="crispEdges"/>
<g clip-path="url(#cT)">
<path d="M349.0,234.6 L351.0,233.3 L353.0,232.1 L355.0,230.8 L357.0,229.5 L359.0,228.2 L361.0,227.0 L363.0,226.0 L365.0,225.2 L367.0,224.3 L369.0,223.5 L371.0,222.7 L373.0,222.1 L375.0,221.5 L377.0,220.9 L379.0,220.3 L381.0,219.6 L383.0,218.8 L385.0,218.1 L387.0,217.3 L389.0,216.5 L391.0,215.8 L393.0,215.0 L395.0,214.3 L397.0,213.6 L399.0,212.9 L401.0,211.8 L403.0,210.2 L405.0,208.5 L407.0,206.8 L409.0,205.6 L411.0,204.8 L413.0,203.9 L415.0,203.1 L417.0,202.6 L419.0,202.5 L421.0,202.3 L423.0,202.1 L425.0,202.0 L427.0,202.4 L429.0,203.2 L431.0,203.9 L433.0,204.7 L435.0,205.5 L437.0,206.4 L439.0,207.2 L441.0,207.6 L443.0,207.7 L445.0,207.7 L447.0,207.8 L449.0,207.8 L451.0,207.8 L453.0,207.9 L455.0,207.9 L457.0,208.0 L459.0,208.2 L461.0,208.4 L463.0,208.6 L465.0,208.9 L467.0,209.1 L469.0,209.4 L471.0,209.6 L473.0,209.9 L475.0,210.1 L477.0,210.4 L479.0,210.7 L481.0,211.0 L483.0,211.3 L485.0,211.6 L487.0,211.9 L489.0,212.2 L491.0,212.6 L493.0,212.9 L495.0,213.2 L497.0,213.5 L499.0,213.8 L501.0,214.1 L503.0,214.5 L505.0,214.8 L507.0,215.1 L509.0,215.4 L511.0,215.8 L513.0,216.1 L515.0,216.4 L517.0,216.5 L519.0,216.6 L521.0,216.6 L523.0,216.7 L525.0,216.8 L527.0,216.8 L529.0,216.8 L531.0,216.7 L533.0,216.7 L535.0,216.6 L537.0,216.6 L539.0,216.5 L541.0,216.3 L543.0,215.6 L545.0,214.8 L547.0,214.1 L549.0,212.9 L551.0,211.7 L553.0,210.5 L555.0,209.3 L557.0,208.0 L559.0,206.7 L561.0,205.4 L563.0,204.4 L565.0,203.9 L567.0,203.4 L569.0,202.9 L571.0,202.4 L573.0,202.3 L575.0,202.8 L577.0,203.3 L579.0,203.8 L581.0,204.7 L583.0,206.1 L585.0,207.4 L587.0,208.8 L589.0,210.1 L591.0,211.4 L593.0,212.6 L595.0,213.6 L597.0,214.6 L599.0,215.7 L601.0,216.5 L603.0,217.0 L605.0,217.6 L607.0,218.1 L609.0,218.7 L611.0,219.2 L613.0,219.6 L615.0,220.1 L617.0,220.5 L619.0,220.9 L621.0,221.3 L623.0,221.7 L625.0,222.1 L627.0,222.5 L629.0,222.9 L631.0,223.3 L633.0,223.6 L635.0,223.9 L637.0,224.2 L639.0,224.5 L641.0,224.8 L643.0,225.1 L645.0,225.4 L647.0,225.7 L649.0,226.1 L651.0,226.3 L653.0,226.5 L655.0,226.7 L657.0,226.9 L659.0,227.1 L661.0,227.3 L663.0,227.5 L665.0,227.7 L667.0,227.9 L669.0,228.1 L671.0,228.4 L673.0,228.6 L675.0,228.8 L677.0,229.0 L679.0,229.3 L681.0,229.5 L683.0,229.7 L685.0,229.6 L687.0,229.5 L689.0,229.4 L691.0,229.3 L693.0,229.2 L695.0,228.8 L697.0,227.4 L699.0,226.0 L701.0,224.6 L703.0,223.2 L705.0,221.8 L707.0,220.3 L709.0,218.8 L711.0,217.3 L713.0,215.8 L715.0,214.3 L717.0,212.8 L719.0,211.6 L721.0,210.9 L723.0,210.1 L725.0,209.4 L727.0,208.6 L729.0,208.7 L731.0,208.9 L733.0,209.4 L735.0,210.7 L737.0,212.0 L739.0,213.3 L741.0,214.7 L743.0,216.1 L745.0,217.5 L747.0,218.9 L749.0,219.6 L751.0,220.3 L753.0,221.1 L755.0,221.8 L757.0,222.2 L759.0,222.6 L761.0,223.0 L763.0,223.4 L765.0,223.7 L767.0,224.0 L769.0,224.2 L771.0,224.5 L773.0,224.8 L775.0,225.0 L777.0,225.3 L779.0,225.5 L781.0,225.8 L783.0,226.0 L785.0,226.3 L787.0,226.5 L789.0,226.7 L791.0,226.9 L793.0,227.2 L795.0,227.4 L797.0,227.6 L799.0,227.8 L801.0,228.1 L803.0,228.3 L805.0,228.5 L807.0,228.6 L809.0,228.8 L811.0,229.0 L813.0,229.2 L815.0,229.4 L817.0,229.6 L819.0,229.7 L821.0,229.9 L823.0,230.1 L825.0,230.2 L827.0,230.3 L829.0,230.4 L831.0,230.5 L833.0,230.6 L835.0,230.7 L837.0,230.8 L839.0,230.9 L841.0,231.0" stroke="#0000f0" stroke-width="2.2" fill="none" stroke-linejoin="round"/>
<path d="M349.0,209.9 L351.0,209.0 L353.0,208.2 L355.0,207.3 L357.0,206.5 L359.0,205.6 L361.0,204.8 L363.0,204.1 L365.0,203.4 L367.0,202.8 L369.0,202.1 L371.0,201.4 L373.0,200.8 L375.0,200.1 L377.0,199.5 L379.0,198.8 L381.0,198.2 L383.0,197.6 L385.0,197.0 L387.0,196.4 L389.0,195.8 L391.0,195.3 L393.0,194.7 L395.0,193.8 L397.0,192.9 L399.0,192.0 L401.0,191.0 L403.0,190.1 L405.0,189.1 L407.0,188.2 L409.0,187.3 L411.0,186.6 L413.0,186.1 L415.0,185.6 L417.0,185.1 L419.0,184.6 L421.0,184.6 L423.0,184.6 L425.0,184.7 L427.0,184.8 L429.0,184.9 L431.0,185.3 L433.0,185.8 L435.0,186.4 L437.0,187.0 L439.0,187.6 L441.0,187.9 L443.0,188.0 L445.0,188.0 L447.0,188.1 L449.0,188.1 L451.0,188.1 L453.0,188.2 L455.0,188.2 L457.0,188.3 L459.0,188.5 L461.0,188.9 L463.0,189.2 L465.0,189.6 L467.0,189.9 L469.0,190.3 L471.0,190.6 L473.0,191.0 L475.0,191.3 L477.0,191.7 L479.0,192.0 L481.0,192.3 L483.0,192.7 L485.0,193.0 L487.0,193.3 L489.0,193.7 L491.0,194.0 L493.0,194.3 L495.0,194.7 L497.0,195.0 L499.0,195.4 L501.0,195.7 L503.0,196.1 L505.0,196.4 L507.0,196.8 L509.0,197.1 L511.0,197.5 L513.0,197.9 L515.0,198.2 L517.0,198.4 L519.0,198.4 L521.0,198.5 L523.0,198.6 L525.0,198.6 L527.0,198.7 L529.0,198.5 L531.0,198.4 L533.0,198.2 L535.0,198.1 L537.0,198.0 L539.0,197.8 L541.0,197.5 L543.0,196.8 L545.0,196.1 L547.0,195.3 L549.0,194.2 L551.0,193.0 L553.0,191.8 L555.0,190.6 L557.0,189.6 L559.0,188.6 L561.0,187.5 L563.0,186.7 L565.0,186.4 L567.0,186.0 L569.0,185.6 L571.0,185.2 L573.0,185.0 L575.0,185.5 L577.0,185.9 L579.0,186.3 L581.0,187.1 L583.0,188.3 L585.0,189.4 L587.0,190.5 L589.0,191.7 L591.0,192.8 L593.0,193.8 L595.0,194.8 L597.0,195.7 L599.0,196.6 L601.0,197.3 L603.0,197.8 L605.0,198.3 L607.0,198.8 L609.0,199.3 L611.0,199.7 L613.0,200.0 L615.0,200.2 L617.0,200.5 L619.0,200.7 L621.0,200.9 L623.0,201.2 L625.0,201.4 L627.0,201.7 L629.0,201.9 L631.0,202.2 L633.0,202.4 L635.0,202.7 L637.0,203.0 L639.0,203.2 L641.0,203.5 L643.0,203.8 L645.0,204.0 L647.0,204.3 L649.0,204.6 L651.0,204.8 L653.0,205.1 L655.0,205.3 L657.0,205.6 L659.0,205.8 L661.0,206.1 L663.0,206.3 L665.0,206.6 L667.0,206.8 L669.0,207.1 L671.0,207.3 L673.0,207.6 L675.0,207.9 L677.0,208.2 L679.0,208.5 L681.0,208.7 L683.0,209.0 L685.0,208.9 L687.0,208.8 L689.0,208.7 L691.0,208.6 L693.0,208.5 L695.0,208.2 L697.0,207.1 L699.0,206.1 L701.0,205.0 L703.0,203.9 L705.0,202.8 L707.0,201.7 L709.0,200.6 L711.0,199.4 L713.0,198.2 L715.0,197.1 L717.0,195.9 L719.0,195.0 L721.0,194.4 L723.0,193.8 L725.0,193.2 L727.0,192.6 L729.0,192.7 L731.0,192.7 L733.0,193.1 L735.0,194.3 L737.0,195.4 L739.0,196.6 L741.0,197.7 L743.0,198.9 L745.0,200.1 L747.0,201.1 L749.0,201.5 L751.0,201.9 L753.0,202.2 L755.0,202.6 L757.0,202.8 L759.0,203.0 L761.0,203.2 L763.0,203.4 L765.0,203.6 L767.0,204.1 L769.0,204.5 L771.0,204.9 L773.0,205.4 L775.0,205.8 L777.0,206.2 L779.0,206.6 L781.0,207.1 L783.0,207.5 L785.0,207.9 L787.0,208.2 L789.0,208.5 L791.0,208.9 L793.0,209.2 L795.0,209.5 L797.0,209.9 L799.0,210.2 L801.0,210.5 L803.0,210.9 L805.0,211.2 L807.0,211.5 L809.0,211.8 L811.0,212.2 L813.0,212.5 L815.0,212.8 L817.0,213.1 L819.0,213.4 L821.0,213.8 L823.0,213.9 L825.0,214.0 L827.0,214.1 L829.0,214.1 L831.0,214.2 L833.0,214.2 L835.0,214.3 L837.0,214.4 L839.0,214.4 L841.0,214.5" stroke="#f80000" stroke-width="2.2" fill="none" stroke-linejoin="round"/>
</g>
<rect x="348.6" y="177.4" width="493.0" height="77.5" fill="none" stroke="#000" stroke-width="1.2"/>
<text x="344.6" y="190.7" font-size="11" fill="#000" text-anchor="end" font-weight="normal"  stroke="#000" stroke-width="0.18">-5</text>
<text x="853.0" y="190.7" font-size="11" fill="#000" text-anchor="middle" font-weight="normal"  stroke="#000" stroke-width="0.18">-5</text>
<text x="344.6" y="209.6" font-size="11" fill="#000" text-anchor="end" font-weight="normal"  stroke="#000" stroke-width="0.18">-10</text>
<text x="853.0" y="209.6" font-size="11" fill="#000" text-anchor="middle" font-weight="normal"  stroke="#000" stroke-width="0.18">-10</text>
<text x="344.6" y="228.3" font-size="11" fill="#000" text-anchor="end" font-weight="normal"  stroke="#000" stroke-width="0.18">-15</text>
<text x="853.0" y="228.3" font-size="11" fill="#000" text-anchor="middle" font-weight="normal"  stroke="#000" stroke-width="0.18">-15</text>
<text x="344.6" y="246.9" font-size="11" fill="#000" text-anchor="end" font-weight="normal"  stroke="#000" stroke-width="0.18">-20</text>
<text x="853.0" y="246.9" font-size="11" fill="#000" text-anchor="middle" font-weight="normal"  stroke="#000" stroke-width="0.18">-20</text>
<text transform="translate(292.2,216.4) rotate(-90)" font-size="12" fill="#00008b" stroke="#00008b" stroke-width="0.12" text-anchor="middle" textLength="66.0" lengthAdjust="spacingAndGlyphs">temperatura</text>
<text transform="translate(305.6,216.8) rotate(-90)" font-size="12" fill="#00008b" stroke="#00008b" stroke-width="0.12" text-anchor="middle" textLength="19.7" lengthAdjust="spacingAndGlyphs">(°C)</text>
<text transform="translate(892.9,216.8) rotate(-90)" font-size="12" fill="#00008b" stroke="#00008b" stroke-width="0.12" text-anchor="middle" textLength="19.7" lengthAdjust="spacingAndGlyphs">(°C)</text>
<text transform="translate(905.3,216.4) rotate(-90)" font-size="12" fill="#00008b" stroke="#00008b" stroke-width="0.12" text-anchor="middle" textLength="66.0" lengthAdjust="spacingAndGlyphs">temperatura</text>
<path d="M361.5,263.7V341.4M380.5,263.7V341.4M399.5,263.7V341.4M418.5,263.7V341.4M438.5,263.7V341.4M457.5,263.7V341.4M476.5,263.7V341.4M495.5,263.7V341.4M514.5,263.7V341.4M534.5,263.7V341.4M553.5,263.7V341.4M572.5,263.7V341.4M591.5,263.7V341.4M610.5,263.7V341.4M630.5,263.7V341.4M649.5,263.7V341.4M668.5,263.7V341.4M687.5,263.7V341.4M706.5,263.7V341.4M726.5,263.7V341.4M745.5,263.7V341.4M764.5,263.7V341.4M783.5,263.7V341.4M802.5,263.7V341.4M822.5,263.7V341.4M348.6,266.5H841.6M348.6,281.5H841.6M348.6,296.5H841.6M348.6,311.5H841.6M348.6,326.5H841.6" stroke="#000" stroke-width="1" stroke-dasharray="2.3 2" fill="none" shape-rendering="crispEdges"/>
<path d="M348.6,298.4 L355.6,298.4 L361.8,295.4 L367.9,286.0 L374.9,286.9 L381.1,285.7 L387.3,283.1 L400.4,279.9 L410.1,282.0 L419.8,283.9 L425.9,286.9 L432.1,291.3 L440.0,292.2 L452.5,294.7 L470.0,295.4 L483.5,293.6 L494.8,296.1 L505.4,297.9 L519.4,302.8 L526.5,302.8 L540.6,300.7 L554.6,307.0 L567.0,311.6 L579.3,306.3 L591.6,299.3 L600.4,297.0 L628.7,295.8 L660.4,293.0 L681.5,290.5 L692.8,290.5 L698.0,293.2 L702.7,297.5 L709.0,302.0 L715.0,305.6 L721.0,308.0 L727.3,308.8 L733.0,307.6 L737.9,304.6 L743.0,300.0 L748.5,295.0 L753.5,291.4 L759.0,288.7 L783.7,281.0 L815.4,272.2 L841.6,270.8" stroke="#e8501a" stroke-width="2" fill="none" stroke-linejoin="round"/>
<rect x="348.6" y="263.7" width="493.0" height="77.7" fill="none" stroke="#000" stroke-width="1.2"/>
<path d="M348.6,341.4H841.6" stroke="#0a7a0a" stroke-width="1" stroke-dasharray="3 2" fill="none"/>
<path d="M364.7,340V341.4M371,339.6V341.4" stroke="#2040e0" stroke-width="1"/>
<text x="344.4" y="270.4" font-size="11" fill="#000" text-anchor="end" font-weight="normal"  stroke="#000" stroke-width="0.18">5</text>
<text x="344.4" y="285.6" font-size="11" fill="#000" text-anchor="end" font-weight="normal"  stroke="#000" stroke-width="0.18">4</text>
<text x="344.4" y="300.6" font-size="11" fill="#000" text-anchor="end" font-weight="normal"  stroke="#000" stroke-width="0.18">3</text>
<text x="344.4" y="315.5" font-size="11" fill="#000" text-anchor="end" font-weight="normal"  stroke="#000" stroke-width="0.18">2</text>
<text x="344.4" y="330.5" font-size="11" fill="#000" text-anchor="end" font-weight="normal"  stroke="#000" stroke-width="0.18">1</text>
<text x="344.4" y="345.4" font-size="11" fill="#000" text-anchor="end" font-weight="normal"  stroke="#000" stroke-width="0.18">0</text>
<text x="853.5" y="270.5" font-size="11" fill="#e84810" text-anchor="middle" font-weight="normal"  stroke="#e84810" stroke-width="0.18">100</text>
<text x="853.5" y="285.7" font-size="11" fill="#e84810" text-anchor="middle" font-weight="normal"  stroke="#e84810" stroke-width="0.18">90</text>
<text x="853.5" y="300.8" font-size="11" fill="#e84810" text-anchor="middle" font-weight="normal"  stroke="#e84810" stroke-width="0.18">80</text>
<text x="853.5" y="315.6" font-size="11" fill="#e84810" text-anchor="middle" font-weight="normal"  stroke="#e84810" stroke-width="0.18">70</text>
<text x="853.5" y="330.8" font-size="11" fill="#e84810" text-anchor="middle" font-weight="normal"  stroke="#e84810" stroke-width="0.18">60</text>
<text x="853.5" y="345.5" font-size="11" fill="#e84810" text-anchor="middle" font-weight="normal"  stroke="#e84810" stroke-width="0.18">50</text>
<text transform="translate(292.2,304.6) rotate(-90)" font-size="12" fill="#00008b" stroke="#00008b" stroke-width="0.12" text-anchor="middle" textLength="28.0" lengthAdjust="spacingAndGlyphs">opad</text>
<text transform="translate(305.8,305.5) rotate(-90)" font-size="12" fill="#00008b" stroke="#00008b" stroke-width="0.12" text-anchor="middle" textLength="86.0" lengthAdjust="spacingAndGlyphs">(mm/h, kg/m²/h)</text>
<text transform="translate(892.9,305.5) rotate(-90)" font-size="12" fill="#00008b" stroke="#00008b" stroke-width="0.12" text-anchor="middle" textLength="18.0" lengthAdjust="spacingAndGlyphs">(%)</text>
<text transform="translate(905.3,306.0) rotate(-90)" font-size="12" fill="#00008b" stroke="#00008b" stroke-width="0.12" text-anchor="middle" textLength="87.0" lengthAdjust="spacingAndGlyphs">wilgotność wzgl.</text>
<linearGradient id="gP" gradientUnits="userSpaceOnUse" x1="348.6" y1="0" x2="841.6" y2="0">
<stop offset="0.0000" stop-color="#f6003a"/>
<stop offset="0.0211" stop-color="#f4063e"/>
<stop offset="0.0252" stop-color="#f01c4c"/>
<stop offset="0.0515" stop-color="#f02050"/>
<stop offset="0.0556" stop-color="#ee2a60"/>
<stop offset="0.1408" stop-color="#ea2e6c"/>
<stop offset="0.1489" stop-color="#e8327c"/>
<stop offset="0.2219" stop-color="#e6368a"/>
<stop offset="0.2300" stop-color="#e23c96"/>
<stop offset="0.3842" stop-color="#de3e9e"/>
<stop offset="0.3903" stop-color="#d250c0"/>
<stop offset="0.4207" stop-color="#d250c0"/>
<stop offset="0.4247" stop-color="#e040a4"/>
<stop offset="0.5546" stop-color="#dc3c9e"/>
<stop offset="0.5627" stop-color="#e64aaa"/>
<stop offset="0.5870" stop-color="#e64aaa"/>
<stop offset="0.5951" stop-color="#de3c9a"/>
<stop offset="0.6195" stop-color="#e03c92"/>
<stop offset="0.6276" stop-color="#e83a80"/>
<stop offset="0.6925" stop-color="#e8346c"/>
<stop offset="0.7493" stop-color="#ea2c60"/>
<stop offset="0.7574" stop-color="#ee184c"/>
<stop offset="0.8913" stop-color="#f00e42"/>
<stop offset="0.8994" stop-color="#f20a3a"/>
<stop offset="0.9724" stop-color="#f40432"/>
<stop offset="0.9805" stop-color="#fa001e"/>
<stop offset="1.0000" stop-color="#fa001e"/>
</linearGradient>
<path d="M348.6,385.6 L355.7,386.6 L375.0,386.3 L385.6,383.1 L399.7,379.2 L419.0,378.2 L431.4,375.4 L452.5,372.9 L470.0,366.9 L487.7,365.1 L508.9,363.0 L533.5,362.7 L544.0,360.6 L554.6,359.9 L567.0,362.7 L586.3,364.4 L600.4,365.8 L607.6,366.5 L628.7,365.1 L656.9,369.0 L681.5,373.9 L702.7,372.2 L720.3,376.8 L741.4,379.2 L766.0,383.1 L790.7,385.6 L815.4,389.1 L833.0,393.7 L841.6,394.0 L841.6,428.5 L348.6,428.5Z" fill="url(#gP)"/>
<path d="M361.5,350.4V428.5M380.5,350.4V428.5M399.5,350.4V428.5M418.5,350.4V428.5M438.5,350.4V428.5M457.5,350.4V428.5M476.5,350.4V428.5M495.5,350.4V428.5M514.5,350.4V428.5M534.5,350.4V428.5M553.5,350.4V428.5M572.5,350.4V428.5M591.5,350.4V428.5M610.5,350.4V428.5M630.5,350.4V428.5M649.5,350.4V428.5M668.5,350.4V428.5M687.5,350.4V428.5M706.5,350.4V428.5M726.5,350.4V428.5M745.5,350.4V428.5M764.5,350.4V428.5M783.5,350.4V428.5M802.5,350.4V428.5M822.5,350.4V428.5M348.6,355.5H841.6M348.6,375.5H841.6M348.6,395.5H841.6M348.6,415.5H841.6" stroke="#000" stroke-width="1" stroke-dasharray="2.3 2" fill="none" shape-rendering="crispEdges"/>
<path d="M348.6,385.6 L355.7,386.6 L375.0,386.3 L385.6,383.1 L399.7,379.2 L419.0,378.2 L431.4,375.4 L452.5,372.9 L470.0,366.9 L487.7,365.1 L508.9,363.0 L533.5,362.7 L544.0,360.6 L554.6,359.9 L567.0,362.7 L586.3,364.4 L600.4,365.8 L607.6,366.5 L628.7,365.1 L656.9,369.0 L681.5,373.9 L702.7,372.2 L720.3,376.8 L741.4,379.2 L766.0,383.1 L790.7,385.6 L815.4,389.1 L833.0,393.7 L841.6,394.0" stroke="#000" stroke-width="2" fill="none" stroke-linejoin="round"/>
<rect x="348.6" y="350.4" width="493.0" height="78.1" fill="none" stroke="#000" stroke-width="1.2"/>
<text x="344.2" y="359.3" font-size="11" fill="#000" text-anchor="end" font-weight="normal"  stroke="#000" stroke-width="0.18">1040</text>
<text x="344.2" y="379.4" font-size="11" fill="#000" text-anchor="end" font-weight="normal"  stroke="#000" stroke-width="0.18">1035</text>
<text x="344.2" y="399.8" font-size="11" fill="#000" text-anchor="end" font-weight="normal"  stroke="#000" stroke-width="0.18">1030</text>
<text x="344.2" y="419.8" font-size="11" fill="#000" text-anchor="end" font-weight="normal"  stroke="#000" stroke-width="0.18">1025</text>
<text x="853.5" y="359.3" font-size="11" fill="#000" text-anchor="middle" font-weight="normal"  stroke="#000" stroke-width="0.18">780</text>
<text x="853.5" y="379.4" font-size="11" fill="#000" text-anchor="middle" font-weight="normal"  stroke="#000" stroke-width="0.18">776</text>
<text x="853.5" y="399.8" font-size="11" fill="#000" text-anchor="middle" font-weight="normal"  stroke="#000" stroke-width="0.18">772</text>
<text x="853.5" y="419.8" font-size="11" fill="#000" text-anchor="middle" font-weight="normal"  stroke="#000" stroke-width="0.18">769</text>
<text transform="translate(292.2,392.5) rotate(-90)" font-size="12" fill="#00008b" stroke="#00008b" stroke-width="0.12" text-anchor="middle" textLength="49.0" lengthAdjust="spacingAndGlyphs">ciśnienie</text>
<text transform="translate(305.8,392.5) rotate(-90)" font-size="12" fill="#00008b" stroke="#00008b" stroke-width="0.12" text-anchor="middle" textLength="29.0" lengthAdjust="spacingAndGlyphs">(hPa)</text>
<text transform="translate(892.9,392.5) rotate(-90)" font-size="12" fill="#00008b" stroke="#00008b" stroke-width="0.12" text-anchor="middle" textLength="47.0" lengthAdjust="spacingAndGlyphs">(mm Hg)</text>
<text transform="translate(905.3,392.5) rotate(-90)" font-size="12" fill="#00008b" stroke="#00008b" stroke-width="0.12" text-anchor="middle" textLength="49.0" lengthAdjust="spacingAndGlyphs">ciśnienie</text>
<clipPath id="cW"><path d="M348.6,496.6 L355.7,495.6 L368.0,497.6 L380.3,496.0 L392.5,497.0 L400.7,494.6 L413.0,497.6 L425.3,498.7 L431.4,497.0 L440.0,498.0 L458.0,496.9 L479.3,498.7 L495.3,499.7 L507.8,500.8 L529.1,501.2 L546.9,500.1 L564.7,499.0 L575.4,499.7 L586.0,498.7 L600.0,498.7 L607.8,499.4 L623.8,498.0 L643.4,498.7 L661.2,498.3 L679.0,500.1 L707.4,501.2 L732.3,502.6 L746.6,502.2 L764.4,500.1 L782.2,502.2 L796.4,502.6 L810.6,504.4 L824.9,504.0 L841.6,504.7 L841.6,515.0 L348.6,515.0Z"/></clipPath>
<g clip-path="url(#cW)">
<rect x="348.6" y="437.7" width="146.7" height="77.3" fill="#1488f8"/>
<rect x="495.3" y="437.7" width="64.1" height="77.3" fill="#00b8ff"/>
<rect x="559.4" y="437.7" width="108.9" height="77.3" fill="#1488f8"/>
<rect x="668.3" y="437.7" width="173.3" height="77.3" fill="#00b8ff"/>
</g>
<path d="M361.5,437.7V515.0M380.5,437.7V515.0M399.5,437.7V515.0M418.5,437.7V515.0M438.5,437.7V515.0M457.5,437.7V515.0M476.5,437.7V515.0M495.5,437.7V515.0M514.5,437.7V515.0M534.5,437.7V515.0M553.5,437.7V515.0M572.5,437.7V515.0M591.5,437.7V515.0M610.5,437.7V515.0M630.5,437.7V515.0M649.5,437.7V515.0M668.5,437.7V515.0M687.5,437.7V515.0M706.5,437.7V515.0M726.5,437.7V515.0M745.5,437.7V515.0M764.5,437.7V515.0M783.5,437.7V515.0M802.5,437.7V515.0M822.5,437.7V515.0M348.6,438.5H841.6M348.6,464.5H841.6M348.6,489.5H841.6" stroke="#000" stroke-width="1" stroke-dasharray="2.3 2" fill="none" shape-rendering="crispEdges"/>
<path d="M348.6,496.6 L355.7,495.6 L368.0,497.6 L380.3,496.0 L392.5,497.0 L400.7,494.6 L413.0,497.6 L425.3,498.7 L431.4,497.0 L440.0,498.0 L458.0,496.9 L479.3,498.7 L495.3,499.7 L507.8,500.8 L529.1,501.2 L546.9,500.1 L564.7,499.0 L575.4,499.7 L586.0,498.7 L600.0,498.7 L607.8,499.4 L623.8,498.0 L643.4,498.7 L661.2,498.3 L679.0,500.1 L707.4,501.2 L732.3,502.6 L746.6,502.2 L764.4,500.1 L782.2,502.2 L796.4,502.6 L810.6,504.4 L824.9,504.0 L841.6,504.7" stroke="#0000b4" stroke-width="2" fill="none" stroke-linejoin="round"/>
<path d="M349.6,464.3H370.0M370.0,463.3H375.1M374.5,460.4H387.8M387.8,462.2H400.7M400.7,461.4H406.9M406.9,463.3H413.0M413.0,464.3H425.3M425.3,469.0H432.4M432.4,470.0H440.0M438.4,468.0H458.0M458.0,469.8H470.4M470.4,472.7H490.0M490.0,478.4H495.3M495.3,480.9H502.4M502.4,482.0H522.0M522.0,483.0H529.1M527.3,480.5H541.6M541.6,479.1H548.7M546.9,475.9H559.4M559.4,473.4H571.8M571.8,477.3H593.2M589.6,478.4H600.7M600.7,477.0H616.7M616.7,474.1H643.4M643.4,475.2H655.8M655.8,474.1H668.3M668.3,477.3H675.4M675.4,479.4H687.9M687.9,480.2H695.0M695.0,479.1H707.4M707.4,480.5H719.9M719.9,484.1H727.0M727.0,486.6H738.8M738.8,484.1H746.6M746.6,483.0H759.0M759.0,481.2H777.5M777.5,486.2H791.1M791.1,485.5H803.5M803.5,488.3H810.6M810.6,490.1H824.9M824.9,490.8H835.5M835.5,492.6H841.6" stroke="#f00000" stroke-width="1.1" fill="none"/>
<rect x="348.6" y="437.7" width="493.0" height="77.3" fill="none" stroke="#000" stroke-width="1.2"/>
<text x="344.4" y="442.9" font-size="11" fill="#000" text-anchor="end" font-weight="normal"  stroke="#000" stroke-width="0.18">15</text>
<text x="344.4" y="468.3" font-size="11" fill="#000" text-anchor="end" font-weight="normal"  stroke="#000" stroke-width="0.18">10</text>
<text x="344.4" y="493.4" font-size="11" fill="#000" text-anchor="end" font-weight="normal"  stroke="#000" stroke-width="0.18">5</text>
<text x="344.4" y="519.0" font-size="11" fill="#000" text-anchor="end" font-weight="normal"  stroke="#000" stroke-width="0.18">0</text>
<text x="853.5" y="442.9" font-size="11" fill="#000" text-anchor="middle" font-weight="normal"  stroke="#000" stroke-width="0.18">54</text>
<text x="853.5" y="468.3" font-size="11" fill="#000" text-anchor="middle" font-weight="normal"  stroke="#000" stroke-width="0.18">36</text>
<text x="853.5" y="493.4" font-size="11" fill="#000" text-anchor="middle" font-weight="normal"  stroke="#000" stroke-width="0.18">18</text>
<text x="853.5" y="519.0" font-size="11" fill="#000" text-anchor="middle" font-weight="normal"  stroke="#000" stroke-width="0.18">0</text>
<text transform="translate(292.2,481.2) rotate(-90)" font-size="12" fill="#00008b" stroke="#00008b" stroke-width="0.12" text-anchor="middle" textLength="27.0" lengthAdjust="spacingAndGlyphs">wiatr</text>
<text transform="translate(305.8,481.2) rotate(-90)" font-size="12" fill="#00008b" stroke="#00008b" stroke-width="0.12" text-anchor="middle" textLength="28.0" lengthAdjust="spacingAndGlyphs">(m/s)</text>
<text transform="translate(892.9,481.2) rotate(-90)" font-size="12" fill="#00008b" stroke="#00008b" stroke-width="0.12" text-anchor="middle" textLength="36.0" lengthAdjust="spacingAndGlyphs">(km/h)</text>
<text transform="translate(905.3,481.2) rotate(-90)" font-size="12" fill="#00008b" stroke="#00008b" stroke-width="0.12" text-anchor="middle" textLength="27.0" lengthAdjust="spacingAndGlyphs">wiatr</text>
<path d="M361.5,521.6V552.0M380.5,521.6V552.0M399.5,521.6V552.0M418.5,521.6V552.0M438.5,521.6V552.0M457.5,521.6V552.0M476.5,521.6V552.0M495.5,521.6V552.0M514.5,521.6V552.0M534.5,521.6V552.0M553.5,521.6V552.0M572.5,521.6V552.0M591.5,521.6V552.0M610.5,521.6V552.0M630.5,521.6V552.0M649.5,521.6V552.0M668.5,521.6V552.0M687.5,521.6V552.0M706.5,521.6V552.0M726.5,521.6V552.0M745.5,521.6V552.0M764.5,521.6V552.0M783.5,521.6V552.0M802.5,521.6V552.0M822.5,521.6V552.0" stroke="#000" stroke-width="1" stroke-dasharray="2.3 2" fill="none" shape-rendering="crispEdges"/>
<rect x="348.6" y="521.6" width="493.0" height="30.4" fill="none" stroke="#000" stroke-width="1.2"/>
<path d="M348.6,552.4H841.6" stroke="#666" stroke-width="2"/>
<path d="M352.7,542.4L345.1,531.6" stroke="#0000b0" stroke-width="1.3"/><path d="M345.1,531.6L350.3,534.3L345.9,537.4Z" fill="#0000b0"/>
<path d="M359.1,542.4L351.5,531.6" stroke="#0000b0" stroke-width="1.3"/><path d="M351.5,531.6L356.7,534.3L352.3,537.4Z" fill="#0000b0"/>
<path d="M365.4,542.4L358.0,531.6" stroke="#0000b0" stroke-width="1.3"/><path d="M358.0,531.6L363.1,534.3L358.7,537.4Z" fill="#0000b0"/>
<path d="M371.8,542.4L364.4,531.6" stroke="#0000b0" stroke-width="1.3"/><path d="M364.4,531.6L369.5,534.3L365.1,537.4Z" fill="#0000b0"/>
<path d="M378.2,542.5L370.8,531.5" stroke="#0000b0" stroke-width="1.3"/><path d="M370.8,531.5L375.9,534.3L371.5,537.4Z" fill="#0000b0"/>
<path d="M384.6,542.5L377.2,531.5" stroke="#0000b0" stroke-width="1.3"/><path d="M377.2,531.5L382.4,534.3L377.9,537.4Z" fill="#0000b0"/>
<path d="M391.0,542.5L383.6,531.5" stroke="#0000b0" stroke-width="1.3"/><path d="M383.6,531.5L388.8,534.3L384.3,537.3Z" fill="#0000b0"/>
<path d="M397.4,542.5L390.0,531.5" stroke="#0000b0" stroke-width="1.3"/><path d="M390.0,531.5L395.2,534.3L390.7,537.3Z" fill="#0000b0"/>
<path d="M403.7,542.5L396.5,531.5" stroke="#0000b0" stroke-width="1.3"/><path d="M396.5,531.5L401.6,534.3L397.1,537.3Z" fill="#0000b0"/>
<path d="M410.1,542.5L402.9,531.5" stroke="#0000b0" stroke-width="1.3"/><path d="M402.9,531.5L408.0,534.3L403.5,537.3Z" fill="#0000b0"/>
<path d="M416.5,542.5L409.3,531.5" stroke="#0000b0" stroke-width="1.3"/><path d="M409.3,531.5L414.4,534.4L409.9,537.3Z" fill="#0000b0"/>
<path d="M422.9,542.5L415.7,531.5" stroke="#0000b0" stroke-width="1.3"/><path d="M415.7,531.5L420.8,534.4L416.3,537.3Z" fill="#0000b0"/>
<path d="M429.3,542.6L422.1,531.4" stroke="#0000b0" stroke-width="1.3"/><path d="M422.1,531.4L427.2,534.4L422.7,537.3Z" fill="#0000b0"/>
<path d="M435.6,542.6L428.6,531.4" stroke="#0000b0" stroke-width="1.3"/><path d="M428.6,531.4L433.6,534.4L429.1,537.3Z" fill="#0000b0"/>
<path d="M442.0,542.6L435.0,531.4" stroke="#0000b0" stroke-width="1.3"/><path d="M435.0,531.4L440.0,534.4L435.5,537.3Z" fill="#0000b0"/>
<path d="M448.4,542.6L441.4,531.4" stroke="#0000b0" stroke-width="1.3"/><path d="M441.4,531.4L446.4,534.4L441.9,537.2Z" fill="#0000b0"/>
<path d="M454.8,542.6L447.8,531.4" stroke="#0000b0" stroke-width="1.3"/><path d="M447.8,531.4L452.9,534.4L448.3,537.2Z" fill="#0000b0"/>
<path d="M461.2,542.6L454.2,531.4" stroke="#0000b0" stroke-width="1.3"/><path d="M454.2,531.4L459.3,534.4L454.7,537.2Z" fill="#0000b0"/>
<path d="M467.5,542.6L460.7,531.4" stroke="#0000b0" stroke-width="1.3"/><path d="M460.7,531.4L465.7,534.4L461.1,537.2Z" fill="#0000b0"/>
<path d="M473.9,542.6L467.1,531.4" stroke="#0000b0" stroke-width="1.3"/><path d="M467.1,531.4L472.1,534.4L467.5,537.2Z" fill="#0000b0"/>
<path d="M480.3,542.7L473.5,531.3" stroke="#0000b0" stroke-width="1.3"/><path d="M473.5,531.3L478.5,534.4L473.9,537.2Z" fill="#0000b0"/>
<path d="M486.8,542.6L479.8,531.4" stroke="#0000b0" stroke-width="1.3"/><path d="M479.8,531.4L484.8,534.4L480.3,537.3Z" fill="#0000b0"/>
<path d="M493.5,542.4L485.9,531.6" stroke="#0000b0" stroke-width="1.3"/><path d="M485.9,531.6L491.1,534.3L486.7,537.4Z" fill="#0000b0"/>
<path d="M500.2,542.2L492.0,531.8" stroke="#0000b0" stroke-width="1.3"/><path d="M492.0,531.8L497.4,534.2L493.1,537.6Z" fill="#0000b0"/>
<path d="M506.9,541.9L498.1,532.1" stroke="#0000b0" stroke-width="1.3"/><path d="M498.1,532.1L503.6,534.2L499.6,537.7Z" fill="#0000b0"/>
<path d="M513.6,541.6L504.2,532.4" stroke="#0000b0" stroke-width="1.3"/><path d="M504.2,532.4L509.8,534.1L506.0,538.0Z" fill="#0000b0"/>
<path d="M520.4,541.2L510.2,532.8" stroke="#0000b0" stroke-width="1.3"/><path d="M510.2,532.8L516.0,534.0L512.5,538.2Z" fill="#0000b0"/>
<path d="M526.9,541.1L516.5,532.9" stroke="#0000b0" stroke-width="1.3"/><path d="M516.5,532.9L522.3,534.0L518.9,538.2Z" fill="#0000b0"/>
<path d="M533.2,541.2L523.0,532.8" stroke="#0000b0" stroke-width="1.3"/><path d="M523.0,532.8L528.7,534.0L525.3,538.2Z" fill="#0000b0"/>
<path d="M539.6,541.2L529.4,532.8" stroke="#0000b0" stroke-width="1.3"/><path d="M529.4,532.8L535.2,534.0L531.7,538.2Z" fill="#0000b0"/>
<path d="M545.5,541.7L536.3,532.3" stroke="#0000b0" stroke-width="1.3"/><path d="M536.3,532.3L541.8,534.1L538.0,537.9Z" fill="#0000b0"/>
<path d="M551.4,542.2L543.2,531.8" stroke="#0000b0" stroke-width="1.3"/><path d="M543.2,531.8L548.5,534.2L544.3,537.6Z" fill="#0000b0"/>
<path d="M557.7,542.3L549.7,531.7" stroke="#0000b0" stroke-width="1.3"/><path d="M549.7,531.7L555.0,534.3L550.7,537.5Z" fill="#0000b0"/>
<path d="M564.0,542.3L556.2,531.7" stroke="#0000b0" stroke-width="1.3"/><path d="M556.2,531.7L561.5,534.3L557.1,537.5Z" fill="#0000b0"/>
<path d="M570.3,542.4L562.7,531.6" stroke="#0000b0" stroke-width="1.3"/><path d="M562.7,531.6L567.9,534.3L563.5,537.4Z" fill="#0000b0"/>
<path d="M576.6,542.5L569.2,531.5" stroke="#0000b0" stroke-width="1.3"/><path d="M569.2,531.5L574.3,534.3L569.9,537.4Z" fill="#0000b0"/>
<path d="M582.9,542.5L575.7,531.5" stroke="#0000b0" stroke-width="1.3"/><path d="M575.7,531.5L580.8,534.4L576.3,537.3Z" fill="#0000b0"/>
<path d="M589.2,542.6L582.2,531.4" stroke="#0000b0" stroke-width="1.3"/><path d="M582.2,531.4L587.2,534.4L582.7,537.3Z" fill="#0000b0"/>
<path d="M595.5,542.6L588.7,531.4" stroke="#0000b0" stroke-width="1.3"/><path d="M588.7,531.4L593.7,534.4L589.1,537.2Z" fill="#0000b0"/>
<path d="M601.8,542.7L595.2,531.3" stroke="#0000b0" stroke-width="1.3"/><path d="M595.2,531.3L600.1,534.4L595.5,537.1Z" fill="#0000b0"/>
<path d="M608.1,542.7L601.7,531.3" stroke="#0000b0" stroke-width="1.3"/><path d="M601.7,531.3L606.6,534.5L601.9,537.1Z" fill="#0000b0"/>
<path d="M614.5,542.8L608.1,531.2" stroke="#0000b0" stroke-width="1.3"/><path d="M608.1,531.2L613.0,534.5L608.3,537.1Z" fill="#0000b0"/>
<path d="M620.8,542.8L614.6,531.2" stroke="#0000b0" stroke-width="1.3"/><path d="M614.6,531.2L619.4,534.5L614.7,537.0Z" fill="#0000b0"/>
<path d="M627.1,542.9L621.1,531.1" stroke="#0000b0" stroke-width="1.3"/><path d="M621.1,531.1L625.9,534.5L621.1,537.0Z" fill="#0000b0"/>
<path d="M633.4,542.9L627.6,531.1" stroke="#0000b0" stroke-width="1.3"/><path d="M627.6,531.1L632.3,534.5L627.5,536.9Z" fill="#0000b0"/>
<path d="M639.7,543.0L634.1,531.0" stroke="#0000b0" stroke-width="1.3"/><path d="M634.1,531.0L638.7,534.6L633.9,536.9Z" fill="#0000b0"/>
<path d="M646.1,543.0L640.5,531.0" stroke="#0000b0" stroke-width="1.3"/><path d="M640.5,531.0L645.2,534.6L640.3,536.9Z" fill="#0000b0"/>
<path d="M652.4,543.0L647.0,531.0" stroke="#0000b0" stroke-width="1.3"/><path d="M647.0,531.0L651.6,534.6L646.7,536.8Z" fill="#0000b0"/>
<path d="M658.7,543.1L653.5,530.9" stroke="#0000b0" stroke-width="1.3"/><path d="M653.5,530.9L658.0,534.6L653.1,536.8Z" fill="#0000b0"/>
<path d="M665.0,543.1L660.0,530.9" stroke="#0000b0" stroke-width="1.3"/><path d="M660.0,530.9L664.5,534.7L659.5,536.7Z" fill="#0000b0"/>
<path d="M671.3,543.1L666.5,530.9" stroke="#0000b0" stroke-width="1.3"/><path d="M666.5,530.9L670.9,534.7L665.9,536.7Z" fill="#0000b0"/>
<path d="M677.6,543.2L673.0,530.8" stroke="#0000b0" stroke-width="1.3"/><path d="M673.0,530.8L677.3,534.7L672.3,536.6Z" fill="#0000b0"/>
<path d="M684.0,543.2L679.4,530.8" stroke="#0000b0" stroke-width="1.3"/><path d="M679.4,530.8L683.8,534.8L678.7,536.6Z" fill="#0000b0"/>
<path d="M690.3,543.2L685.9,530.8" stroke="#0000b0" stroke-width="1.3"/><path d="M685.9,530.8L690.2,534.8L685.1,536.6Z" fill="#0000b0"/>
<path d="M696.6,543.3L692.4,530.7" stroke="#0000b0" stroke-width="1.3"/><path d="M692.4,530.7L696.6,534.8L691.5,536.5Z" fill="#0000b0"/>
<path d="M702.9,543.3L698.9,530.7" stroke="#0000b0" stroke-width="1.3"/><path d="M698.9,530.7L703.1,534.9L697.9,536.5Z" fill="#0000b0"/>
<path d="M709.1,543.3L705.5,530.7" stroke="#0000b0" stroke-width="1.3"/><path d="M705.5,530.7L709.5,534.9L704.3,536.4Z" fill="#0000b0"/>
<path d="M715.4,543.4L712.0,530.6" stroke="#0000b0" stroke-width="1.3"/><path d="M712.0,530.6L715.9,535.0L710.7,536.3Z" fill="#0000b0"/>
<path d="M721.7,543.4L718.5,530.6" stroke="#0000b0" stroke-width="1.3"/><path d="M718.5,530.6L722.4,535.0L717.1,536.3Z" fill="#0000b0"/>
<path d="M727.9,543.4L725.1,530.6" stroke="#0000b0" stroke-width="1.3"/><path d="M725.1,530.6L728.8,535.0L723.6,536.2Z" fill="#0000b0"/>
<path d="M734.2,543.5L731.6,530.5" stroke="#0000b0" stroke-width="1.3"/><path d="M731.6,530.5L735.3,535.1L730.0,536.2Z" fill="#0000b0"/>
<path d="M740.5,543.5L738.1,530.5" stroke="#0000b0" stroke-width="1.3"/><path d="M738.1,530.5L741.7,535.1L736.4,536.1Z" fill="#0000b0"/>
<path d="M746.5,543.5L744.9,530.5" stroke="#0000b0" stroke-width="1.3"/><path d="M744.9,530.5L748.2,535.3L742.8,535.9Z" fill="#0000b0"/>
<path d="M752.6,543.6L751.6,530.4" stroke="#0000b0" stroke-width="1.3"/><path d="M751.6,530.4L754.7,535.4L749.3,535.8Z" fill="#0000b0"/>
<path d="M758.6,543.6L758.4,530.4" stroke="#0000b0" stroke-width="1.3"/><path d="M758.4,530.4L761.2,535.6L755.8,535.6Z" fill="#0000b0"/>
<path d="M764.7,543.6L765.1,530.4" stroke="#0000b0" stroke-width="1.3"/><path d="M765.1,530.4L767.6,535.7L762.2,535.5Z" fill="#0000b0"/>
<path d="M770.8,543.6L771.8,530.4" stroke="#0000b0" stroke-width="1.3"/><path d="M771.8,530.4L774.1,535.8L768.7,535.4Z" fill="#0000b0"/>
<path d="M776.9,543.5L778.5,530.5" stroke="#0000b0" stroke-width="1.3"/><path d="M778.5,530.5L780.6,535.9L775.2,535.3Z" fill="#0000b0"/>
<path d="M783.0,543.5L785.2,530.5" stroke="#0000b0" stroke-width="1.3"/><path d="M785.2,530.5L787.0,536.1L781.7,535.2Z" fill="#0000b0"/>
<path d="M789.1,543.4L791.9,530.6" stroke="#0000b0" stroke-width="1.3"/><path d="M791.9,530.6L793.4,536.2L788.2,535.1Z" fill="#0000b0"/>
<path d="M795.2,543.4L798.6,530.6" stroke="#0000b0" stroke-width="1.3"/><path d="M798.6,530.6L799.9,536.4L794.7,534.9Z" fill="#0000b0"/>
<path d="M801.2,543.3L805.4,530.7" stroke="#0000b0" stroke-width="1.3"/><path d="M805.4,530.7L806.3,536.5L801.2,534.8Z" fill="#0000b0"/>
<path d="M807.3,543.1L812.1,530.9" stroke="#0000b0" stroke-width="1.3"/><path d="M812.1,530.9L812.7,536.7L807.7,534.7Z" fill="#0000b0"/>
<path d="M813.4,543.0L818.8,531.0" stroke="#0000b0" stroke-width="1.3"/><path d="M818.8,531.0L819.1,536.8L814.2,534.6Z" fill="#0000b0"/>
<path d="M819.5,542.9L825.5,531.1" stroke="#0000b0" stroke-width="1.3"/><path d="M825.5,531.1L825.5,537.0L820.7,534.5Z" fill="#0000b0"/>
<path d="M825.6,542.7L832.2,531.3" stroke="#0000b0" stroke-width="1.3"/><path d="M832.2,531.3L831.9,537.1L827.2,534.4Z" fill="#0000b0"/>
<path d="M831.8,542.6L838.8,531.4" stroke="#0000b0" stroke-width="1.3"/><path d="M838.8,531.4L838.3,537.3L833.8,534.4Z" fill="#0000b0"/>
<path d="M837.9,542.4L845.5,531.6" stroke="#0000b0" stroke-width="1.3"/><path d="M845.5,531.6L844.7,537.4L840.3,534.3Z" fill="#0000b0"/>
<text x="298.8" y="531.2" font-size="12" fill="#00008b" text-anchor="middle" font-weight="normal" textLength="7.4" lengthAdjust="spacingAndGlyphs"  stroke="#00008b" stroke-width="0.18">N</text>
<text x="289.0" y="539.8" font-size="12" fill="#00008b" text-anchor="middle" font-weight="normal" textLength="10.3" lengthAdjust="spacingAndGlyphs"  stroke="#00008b" stroke-width="0.18">W</text>
<text x="305.0" y="539.8" font-size="12" fill="#00008b" text-anchor="middle" font-weight="normal" textLength="6.3" lengthAdjust="spacingAndGlyphs"  stroke="#00008b" stroke-width="0.18">E</text>
<text x="297.7" y="547.5" font-size="12" fill="#00008b" text-anchor="middle" font-weight="normal" textLength="7.2" lengthAdjust="spacingAndGlyphs"  stroke="#00008b" stroke-width="0.18">S</text>
<text x="897.5" y="531.6" font-size="12" fill="#00008b" text-anchor="middle" font-weight="normal" textLength="7.4" lengthAdjust="spacingAndGlyphs"  stroke="#00008b" stroke-width="0.18">N</text>
<text x="887.7" y="540.2" font-size="12" fill="#00008b" text-anchor="middle" font-weight="normal" textLength="10.3" lengthAdjust="spacingAndGlyphs"  stroke="#00008b" stroke-width="0.18">W</text>
<text x="903.7" y="540.2" font-size="12" fill="#00008b" text-anchor="middle" font-weight="normal" textLength="6.3" lengthAdjust="spacingAndGlyphs"  stroke="#00008b" stroke-width="0.18">E</text>
<text x="896.4" y="547.9" font-size="12" fill="#00008b" text-anchor="middle" font-weight="normal" textLength="7.2" lengthAdjust="spacingAndGlyphs"  stroke="#00008b" stroke-width="0.18">S</text>
<rect x="348.6" y="557.6" width="493.0" height="78.4" fill="#87d0fc"/>
<rect x="348.6" y="557.6" width="37.2" height="78.4" fill="#003a80" opacity="0.12"/>
<rect x="436.8" y="557.6" width="101.7" height="78.4" fill="#003a80" opacity="0.12"/>
<rect x="590.4" y="557.6" width="101.6" height="78.4" fill="#003a80" opacity="0.12"/>
<rect x="744.2" y="557.6" width="97.4" height="78.4" fill="#003a80" opacity="0.12"/>
<clipPath id="cC"><rect x="348.6" y="557.6" width="493.0" height="78.4"/></clipPath>
<g clip-path="url(#cC)">
<circle cx="348.9" cy="624.6" r="2.7" fill="#ffffff"/>
<circle cx="348.9" cy="622.7" r="2.7" fill="#d8d8d8"/>
<circle cx="348.9" cy="620.9" r="2.7" fill="#808080"/>
<circle cx="355.3" cy="626.0" r="2.7" fill="#ffffff"/>
<circle cx="355.3" cy="624.1" r="2.7" fill="#d8d8d8"/>
<circle cx="355.3" cy="622.3" r="2.7" fill="#808080"/>
<circle cx="361.7" cy="626.8" r="2.7" fill="#ffffff"/>
<circle cx="361.7" cy="624.9" r="2.7" fill="#d8d8d8"/>
<circle cx="361.7" cy="623.1" r="2.7" fill="#808080"/>
<circle cx="374.5" cy="627.3" r="2.7" fill="#ffffff"/>
<circle cx="374.5" cy="625.4" r="2.7" fill="#d8d8d8"/>
<circle cx="374.5" cy="623.6" r="2.7" fill="#808080"/>
<circle cx="380.9" cy="628.8" r="2.7" fill="#ffffff"/>
<circle cx="380.9" cy="626.9" r="2.7" fill="#d8d8d8"/>
<circle cx="380.9" cy="625.1" r="2.7" fill="#808080"/>
<circle cx="387.3" cy="628.8" r="2.7" fill="#ffffff"/>
<circle cx="387.3" cy="626.9" r="2.7" fill="#d8d8d8"/>
<circle cx="387.3" cy="625.1" r="2.7" fill="#808080"/>
<circle cx="393.7" cy="629.3" r="2.7" fill="#ffffff"/>
<circle cx="393.7" cy="627.4" r="2.7" fill="#d8d8d8"/>
<circle cx="393.7" cy="625.6" r="2.7" fill="#808080"/>
<circle cx="400.1" cy="629.3" r="2.7" fill="#ffffff"/>
<circle cx="400.1" cy="627.4" r="2.7" fill="#d8d8d8"/>
<circle cx="400.1" cy="625.6" r="2.7" fill="#808080"/>
<circle cx="406.5" cy="628.6" r="2.7" fill="#ffffff"/>
<circle cx="406.5" cy="626.7" r="2.7" fill="#d8d8d8"/>
<circle cx="406.5" cy="624.9" r="2.7" fill="#808080"/>
<circle cx="412.9" cy="628.2" r="2.7" fill="#ffffff"/>
<circle cx="412.9" cy="626.3" r="2.7" fill="#d8d8d8"/>
<circle cx="412.9" cy="624.5" r="2.7" fill="#808080"/>
<circle cx="419.3" cy="627.3" r="2.7" fill="#ffffff"/>
<circle cx="419.3" cy="625.4" r="2.7" fill="#d8d8d8"/>
<circle cx="419.3" cy="623.6" r="2.7" fill="#808080"/>
<circle cx="361.7" cy="630.0" r="2.7" fill="#fff"/>
<circle cx="380.9" cy="630.4" r="2.7" fill="#fff"/>
<circle cx="425.7" cy="625.0" r="2.7" fill="#fff"/>
<circle cx="374.5" cy="629.6" r="2.7" fill="#a0a0a0"/>
<circle cx="348.9" cy="619.1" r="2.7" fill="#000"/>
<circle cx="355.3" cy="620.5" r="2.7" fill="#000"/>
<circle cx="361.7" cy="621.3" r="2.7" fill="#000"/>
<circle cx="374.5" cy="621.8" r="2.7" fill="#000"/>
<circle cx="380.9" cy="623.3" r="2.7" fill="#000"/>
<circle cx="387.3" cy="623.3" r="2.7" fill="#000"/>
<circle cx="393.7" cy="623.8" r="2.7" fill="#000"/>
<circle cx="400.1" cy="623.8" r="2.7" fill="#000"/>
<circle cx="406.5" cy="623.1" r="2.7" fill="#000"/>
<circle cx="412.9" cy="622.7" r="2.7" fill="#000"/>
<circle cx="419.3" cy="621.8" r="2.7" fill="#000"/>
<circle cx="368.1" cy="630.4" r="2.7" fill="#000"/>
<circle cx="431.8" cy="574.5" r="2.7" fill="#fff"/>
<circle cx="438.2" cy="573.6" r="2.7" fill="#fff"/>
<circle cx="444.6" cy="574.0" r="2.7" fill="#fff"/>
<circle cx="451.0" cy="573.8" r="2.7" fill="#fff"/>
<circle cx="457.4" cy="573.6" r="2.7" fill="#fff"/>
<circle cx="463.8" cy="573.8" r="2.7" fill="#fff"/>
<circle cx="470.2" cy="573.4" r="2.7" fill="#fff"/>
<circle cx="476.6" cy="573.2" r="2.7" fill="#fff"/>
<circle cx="483.0" cy="572.6" r="2.7" fill="#fff"/>
<circle cx="489.4" cy="572.6" r="2.7" fill="#fff"/>
<circle cx="495.8" cy="572.4" r="2.7" fill="#fff"/>
<circle cx="502.2" cy="572.4" r="2.7" fill="#fff"/>
<circle cx="508.6" cy="572.8" r="2.7" fill="#fff"/>
<circle cx="515.0" cy="573.2" r="2.7" fill="#fff"/>
<circle cx="521.4" cy="573.0" r="2.7" fill="#fff"/>
<circle cx="527.8" cy="573.0" r="2.7" fill="#fff"/>
<circle cx="534.2" cy="573.0" r="2.7" fill="#fff"/>
<circle cx="540.6" cy="573.2" r="2.7" fill="#fff"/>
<circle cx="547.0" cy="573.2" r="2.7" fill="#fff"/>
<circle cx="553.4" cy="573.8" r="2.7" fill="#fff"/>
<circle cx="559.8" cy="574.4" r="2.7" fill="#fff"/>
<circle cx="566.2" cy="574.8" r="2.7" fill="#fff"/>
<circle cx="572.6" cy="575.2" r="2.7" fill="#fff"/>
<circle cx="579.0" cy="575.6" r="2.7" fill="#fff"/>
<circle cx="585.4" cy="575.8" r="2.7" fill="#fff"/>
<circle cx="591.8" cy="576.0" r="2.7" fill="#fff"/>
<circle cx="598.2" cy="576.4" r="2.7" fill="#fff"/>
<circle cx="604.6" cy="575.6" r="2.7" fill="#fff"/>
<circle cx="611.0" cy="577.0" r="2.7" fill="#fff"/>
<circle cx="617.4" cy="578.2" r="2.7" fill="#fff"/>
<circle cx="623.8" cy="578.8" r="2.7" fill="#fff"/>
<circle cx="630.2" cy="579.0" r="2.7" fill="#fff"/>
<circle cx="636.6" cy="579.2" r="2.7" fill="#fff"/>
<circle cx="643.0" cy="579.0" r="2.7" fill="#fff"/>
<circle cx="649.4" cy="579.0" r="2.7" fill="#fff"/>
<circle cx="655.8" cy="578.8" r="2.7" fill="#fff"/>
<circle cx="662.2" cy="578.6" r="2.7" fill="#fff"/>
<circle cx="668.6" cy="578.8" r="2.7" fill="#fff"/>
<circle cx="675.0" cy="579.2" r="2.7" fill="#fff"/>
<circle cx="681.4" cy="579.6" r="2.7" fill="#fff"/>
<circle cx="687.8" cy="579.6" r="2.7" fill="#fff"/>
<circle cx="694.2" cy="579.8" r="2.7" fill="#fff"/>
<circle cx="700.6" cy="579.8" r="2.7" fill="#fff"/>
<circle cx="707.0" cy="579.6" r="2.7" fill="#fff"/>
<circle cx="713.4" cy="579.4" r="2.7" fill="#fff"/>
<circle cx="719.8" cy="579.2" r="2.7" fill="#fff"/>
<circle cx="726.2" cy="578.8" r="2.7" fill="#fff"/>
<circle cx="732.6" cy="578.2" r="2.7" fill="#fff"/>
<circle cx="739.0" cy="577.6" r="2.7" fill="#fff"/>
<circle cx="745.4" cy="577.4" r="2.7" fill="#fff"/>
<circle cx="751.8" cy="577.4" r="2.7" fill="#fff"/>
<circle cx="758.0" cy="577.6" r="2.7" fill="#fff"/>
<circle cx="764.4" cy="577.6" r="2.7" fill="#fff"/>
<circle cx="770.8" cy="577.6" r="2.7" fill="#fff"/>
<circle cx="777.2" cy="577.6" r="2.7" fill="#fff"/>
<circle cx="444.6" cy="568.0" r="2.7" fill="#d2d2d2"/>
<circle cx="451.0" cy="568.0" r="2.7" fill="#d2d2d2"/>
<circle cx="457.4" cy="568.4" r="2.7" fill="#d2d2d2"/>
<circle cx="463.8" cy="568.8" r="2.7" fill="#d2d2d2"/>
<circle cx="470.2" cy="568.8" r="2.7" fill="#d2d2d2"/>
<circle cx="476.6" cy="568.8" r="2.7" fill="#d2d2d2"/>
<circle cx="540.6" cy="566.6" r="2.7" fill="#d2d2d2"/>
<circle cx="547.0" cy="567.6" r="2.7" fill="#d2d2d2"/>
<circle cx="553.4" cy="568.0" r="2.7" fill="#d2d2d2"/>
<circle cx="604.6" cy="568.0" r="2.7" fill="#cfcfcf"/>
<circle cx="611.0" cy="568.6" r="2.7" fill="#cfcfcf"/>
<circle cx="617.4" cy="570.0" r="2.7" fill="#cfcfcf"/>
<circle cx="623.8" cy="570.4" r="2.7" fill="#cfcfcf"/>
<circle cx="630.2" cy="571.4" r="2.7" fill="#cfcfcf"/>
<circle cx="636.6" cy="571.8" r="2.7" fill="#cfcfcf"/>
<circle cx="643.0" cy="572.4" r="2.7" fill="#cfcfcf"/>
<circle cx="649.4" cy="570.4" r="2.7" fill="#cfcfcf"/>
<circle cx="655.8" cy="570.2" r="2.7" fill="#cfcfcf"/>
<circle cx="662.2" cy="570.6" r="2.7" fill="#cfcfcf"/>
<circle cx="668.6" cy="571.4" r="2.7" fill="#cfcfcf"/>
<circle cx="675.0" cy="572.0" r="2.7" fill="#cfcfcf"/>
<circle cx="681.4" cy="572.2" r="2.7" fill="#cfcfcf"/>
<circle cx="687.8" cy="572.6" r="2.7" fill="#cfcfcf"/>
<circle cx="713.4" cy="573.4" r="2.7" fill="#cfcfcf"/>
<circle cx="719.8" cy="573.4" r="2.7" fill="#cfcfcf"/>
<circle cx="726.2" cy="572.6" r="2.7" fill="#cfcfcf"/>
<circle cx="732.6" cy="571.4" r="2.7" fill="#cfcfcf"/>
<circle cx="739.0" cy="570.4" r="2.7" fill="#cfcfcf"/>
<circle cx="745.4" cy="570.6" r="2.7" fill="#cfcfcf"/>
<circle cx="751.8" cy="570.8" r="2.7" fill="#cfcfcf"/>
<circle cx="758.0" cy="571.4" r="2.7" fill="#cfcfcf"/>
<circle cx="764.4" cy="572.4" r="2.7" fill="#cfcfcf"/>
<circle cx="770.8" cy="571.4" r="2.7" fill="#cfcfcf"/>
<circle cx="777.2" cy="571.0" r="2.7" fill="#cfcfcf"/>
<circle cx="783.6" cy="570.8" r="2.7" fill="#cfcfcf"/>
<circle cx="790.0" cy="570.6" r="2.7" fill="#cfcfcf"/>
<circle cx="681.4" cy="568.0" r="2.7" fill="#9a9a9a"/>
<circle cx="694.2" cy="570.0" r="2.7" fill="#9a9a9a"/>
<circle cx="700.6" cy="570.0" r="2.7" fill="#9a9a9a"/>
<circle cx="707.0" cy="570.2" r="2.7" fill="#9a9a9a"/>
<circle cx="726.2" cy="568.0" r="2.7" fill="#9a9a9a"/>
<circle cx="732.6" cy="568.6" r="2.7" fill="#9a9a9a"/>
<circle cx="739.0" cy="568.2" r="2.7" fill="#9a9a9a"/>
<circle cx="745.4" cy="568.4" r="2.7" fill="#9a9a9a"/>
<circle cx="751.8" cy="570.4" r="2.7" fill="#9a9a9a"/>
<circle cx="758.0" cy="571.0" r="2.7" fill="#9a9a9a"/>
<circle cx="764.4" cy="571.0" r="2.7" fill="#9a9a9a"/>
<circle cx="681.4" cy="567.4" r="2.7" fill="#585858"/>
<circle cx="726.2" cy="567.2" r="2.7" fill="#585858"/>
<circle cx="770.8" cy="569.0" r="2.7" fill="#585858"/>
<circle cx="777.2" cy="569.0" r="2.7" fill="#585858"/>
<circle cx="783.6" cy="569.0" r="2.7" fill="#585858"/>
<circle cx="790.0" cy="569.0" r="2.7" fill="#585858"/>
<circle cx="796.4" cy="569.0" r="2.7" fill="#585858"/>
<circle cx="348.9" cy="564.1" r="2.75" fill="#a81c1c"/>
<circle cx="355.3" cy="564.1" r="2.75" fill="#a81c1c"/>
<circle cx="361.7" cy="564.1" r="2.75" fill="#a81c1c"/>
<circle cx="368.1" cy="564.1" r="2.75" fill="#a81c1c"/>
<circle cx="374.5" cy="564.1" r="2.75" fill="#a81c1c"/>
<circle cx="380.9" cy="564.1" r="2.75" fill="#a81c1c"/>
<circle cx="387.3" cy="564.1" r="2.75" fill="#a81c1c"/>
<circle cx="393.7" cy="564.1" r="2.75" fill="#a81c1c"/>
<circle cx="400.1" cy="564.1" r="2.75" fill="#a81c1c"/>
<circle cx="406.5" cy="564.1" r="2.75" fill="#a81c1c"/>
<circle cx="412.9" cy="564.1" r="2.75" fill="#a81c1c"/>
<circle cx="419.3" cy="564.1" r="2.75" fill="#a81c1c"/>
<circle cx="425.7" cy="564.1" r="2.75" fill="#a81c1c"/>
<circle cx="432.1" cy="564.1" r="2.75" fill="#a81c1c"/>
<circle cx="438.5" cy="564.1" r="2.75" fill="#a81c1c"/>
<circle cx="444.9" cy="564.1" r="2.75" fill="#a81c1c"/>
<circle cx="451.3" cy="564.1" r="2.75" fill="#a81c1c"/>
<circle cx="457.7" cy="564.1" r="2.75" fill="#a81c1c"/>
<circle cx="464.1" cy="564.1" r="2.75" fill="#a81c1c"/>
<circle cx="470.5" cy="564.1" r="2.75" fill="#a81c1c"/>
<circle cx="476.9" cy="564.1" r="2.75" fill="#a81c1c"/>
<circle cx="483.3" cy="564.1" r="2.75" fill="#a81c1c"/>
<circle cx="489.7" cy="564.1" r="2.75" fill="#a81c1c"/>
<circle cx="496.1" cy="564.1" r="2.75" fill="#a81c1c"/>
<circle cx="502.5" cy="564.1" r="2.75" fill="#a81c1c"/>
<circle cx="508.9" cy="564.1" r="2.75" fill="#a81c1c"/>
<circle cx="515.3" cy="564.1" r="2.75" fill="#a81c1c"/>
<circle cx="521.7" cy="564.1" r="2.75" fill="#a81c1c"/>
<circle cx="528.1" cy="564.1" r="2.75" fill="#a81c1c"/>
<circle cx="534.5" cy="564.1" r="2.75" fill="#a81c1c"/>
<circle cx="540.9" cy="564.1" r="2.75" fill="#a81c1c"/>
<circle cx="547.3" cy="564.1" r="2.75" fill="#a81c1c"/>
<circle cx="553.7" cy="564.1" r="2.75" fill="#a81c1c"/>
<circle cx="560.1" cy="564.1" r="2.75" fill="#a81c1c"/>
<circle cx="566.5" cy="564.1" r="2.75" fill="#a81c1c"/>
<circle cx="572.9" cy="564.1" r="2.75" fill="#a81c1c"/>
<circle cx="579.3" cy="564.1" r="2.75" fill="#a81c1c"/>
<circle cx="585.7" cy="564.1" r="2.75" fill="#a81c1c"/>
<circle cx="592.1" cy="564.1" r="2.75" fill="#a81c1c"/>
<circle cx="598.5" cy="564.1" r="2.75" fill="#a81c1c"/>
<circle cx="604.9" cy="564.1" r="2.75" fill="#a81c1c"/>
<circle cx="611.3" cy="564.1" r="2.75" fill="#a81c1c"/>
<circle cx="617.7" cy="564.1" r="2.75" fill="#a81c1c"/>
<circle cx="624.1" cy="564.1" r="2.75" fill="#a81c1c"/>
<circle cx="630.5" cy="564.1" r="2.75" fill="#a81c1c"/>
<circle cx="636.9" cy="564.1" r="2.75" fill="#a81c1c"/>
<circle cx="643.3" cy="564.1" r="2.75" fill="#a81c1c"/>
<circle cx="649.7" cy="564.1" r="2.75" fill="#a81c1c"/>
<circle cx="656.1" cy="564.1" r="2.75" fill="#a81c1c"/>
<circle cx="662.5" cy="564.1" r="2.75" fill="#a81c1c"/>
<circle cx="668.9" cy="564.1" r="2.75" fill="#a81c1c"/>
<circle cx="675.3" cy="564.1" r="2.75" fill="#a81c1c"/>
<circle cx="681.7" cy="564.1" r="2.75" fill="#a81c1c"/>
<circle cx="688.1" cy="564.1" r="2.75" fill="#a81c1c"/>
<circle cx="694.5" cy="564.1" r="2.75" fill="#a81c1c"/>
<circle cx="700.9" cy="564.1" r="2.75" fill="#a81c1c"/>
<circle cx="707.3" cy="564.1" r="2.75" fill="#a81c1c"/>
<circle cx="713.7" cy="564.1" r="2.75" fill="#a81c1c"/>
<circle cx="720.1" cy="564.1" r="2.75" fill="#a81c1c"/>
<circle cx="726.5" cy="564.1" r="2.75" fill="#a81c1c"/>
<circle cx="732.9" cy="564.1" r="2.75" fill="#a81c1c"/>
<circle cx="739.3" cy="564.1" r="2.75" fill="#a81c1c"/>
<circle cx="745.7" cy="564.1" r="2.75" fill="#a81c1c"/>
<circle cx="752.1" cy="564.1" r="2.75" fill="#a81c1c"/>
<circle cx="758.5" cy="564.1" r="2.75" fill="#a81c1c"/>
<circle cx="764.9" cy="564.1" r="2.75" fill="#a81c1c"/>
<circle cx="771.3" cy="564.1" r="2.75" fill="#a81c1c"/>
<circle cx="777.7" cy="564.1" r="2.75" fill="#a81c1c"/>
<circle cx="784.1" cy="564.1" r="2.75" fill="#a81c1c"/>
<circle cx="790.5" cy="564.1" r="2.75" fill="#a81c1c"/>
<circle cx="796.9" cy="564.1" r="2.75" fill="#a81c1c"/>
<circle cx="803.3" cy="564.1" r="2.75" fill="#a81c1c"/>
<circle cx="809.7" cy="564.1" r="2.75" fill="#a81c1c"/>
<circle cx="816.1" cy="564.1" r="2.75" fill="#a81c1c"/>
<circle cx="822.5" cy="564.1" r="2.75" fill="#a81c1c"/>
<circle cx="828.9" cy="564.1" r="2.75" fill="#a81c1c"/>
<circle cx="835.3" cy="564.1" r="2.75" fill="#a81c1c"/>
<circle cx="841.7" cy="564.1" r="2.75" fill="#a81c1c"/>
<circle cx="803.3" cy="630.2" r="2.7" fill="#000"/>
<circle cx="809.7" cy="630.2" r="2.7" fill="#000"/>
<circle cx="816.1" cy="630.2" r="2.7" fill="#000"/>
<circle cx="822.5" cy="630.2" r="2.7" fill="#000"/>
<circle cx="828.9" cy="630.2" r="2.7" fill="#000"/>
<circle cx="835.3" cy="630.2" r="2.7" fill="#000"/>
<circle cx="841.7" cy="630.2" r="2.7" fill="#000"/>
<circle cx="796.7" cy="630.2" r="2.7" fill="#9a9a9a"/>
<circle cx="790.3" cy="630.2" r="2.7" fill="#fff"/>
</g>
<path d="M361.5,557.6V636.0M380.5,557.6V636.0M399.5,557.6V636.0M418.5,557.6V636.0M438.5,557.6V636.0M457.5,557.6V636.0M476.5,557.6V636.0M495.5,557.6V636.0M514.5,557.6V636.0M534.5,557.6V636.0M553.5,557.6V636.0M572.5,557.6V636.0M591.5,557.6V636.0M610.5,557.6V636.0M630.5,557.6V636.0M649.5,557.6V636.0M668.5,557.6V636.0M687.5,557.6V636.0M706.5,557.6V636.0M726.5,557.6V636.0M745.5,557.6V636.0M764.5,557.6V636.0M783.5,557.6V636.0M802.5,557.6V636.0M822.5,557.6V636.0M348.6,577.5H841.6M348.6,597.5H841.6M348.6,616.5H841.6" stroke="#000" stroke-width="1" stroke-dasharray="2.3 2" fill="none" shape-rendering="crispEdges"/>
<g clip-path="url(#cC)"><path d="M348.6,573.3 L361.8,573.8 L368.2,615.5 L380.5,575.1 L400.0,577.3 L413.6,579.1 L419.0,577.5 L425.5,578.7 L431.8,576.7 L440.0,577.2 L466.4,576.9 L484.5,574.9 L502.7,574.2 L520.9,574.5 L539.0,575.8 L557.3,576.9 L575.5,577.8 L583.0,579.0 L590.9,581.5 L607.3,583.3 L629.0,583.6 L640.0,582.2 L660.0,580.4 L674.5,581.5 L689.0,583.6 L696.4,584.5 L714.5,584.2 L725.5,585.1 L740.0,587.3 L745.8,588.5 L763.6,592.4 L783.4,596.4 L788.0,599.5 L791.3,603.3 L794.5,608.0 L797.3,613.2 L799.0,619.0 L800.2,625.0 L801.5,629.0 L803.2,631.4 L808.0,633.0 L813.0,633.4 L841.6,633.4" stroke="#ff9a10" stroke-width="2" fill="none" stroke-linejoin="round"/></g>
<rect x="348.6" y="557.6" width="493.0" height="78.4" fill="none" stroke="#000" stroke-width="1.2"/>
<text x="344.2" y="562.2" font-size="11" fill="#000" text-anchor="end" font-weight="normal"  stroke="#000" stroke-width="0.18">15.0</text>
<text x="344.2" y="581.3" font-size="11" fill="#000" text-anchor="end" font-weight="normal"  stroke="#000" stroke-width="0.18">7.0</text>
<text x="344.2" y="601.3" font-size="11" fill="#000" text-anchor="end" font-weight="normal"  stroke="#000" stroke-width="0.18">2.0</text>
<text x="344.2" y="620.4" font-size="11" fill="#000" text-anchor="end" font-weight="normal"  stroke="#000" stroke-width="0.18">0.5</text>
<text x="344.2" y="640.0" font-size="11" fill="#000" text-anchor="end" font-weight="normal"  stroke="#000" stroke-width="0.18">0.0</text>
<text x="845.0" y="562.2" font-size="11" fill="#ff8000" text-anchor="start" font-weight="normal"  stroke="#ff8000" stroke-width="0.18">100</text>
<text x="845.0" y="581.3" font-size="11" fill="#ff8000" text-anchor="start" font-weight="normal"  stroke="#ff8000" stroke-width="0.18">20</text>
<text x="845.0" y="601.3" font-size="11" fill="#ff8000" text-anchor="start" font-weight="normal"  stroke="#ff8000" stroke-width="0.18">5</text>
<text x="845.0" y="620.4" font-size="11" fill="#ff8000" text-anchor="start" font-weight="normal"  stroke="#ff8000" stroke-width="0.18">1</text>
<text x="845.0" y="640.0" font-size="11" fill="#ff8000" text-anchor="start" font-weight="normal"  stroke="#ff8000" stroke-width="0.18">0</text>
<text transform="translate(292.5,594.3) rotate(-90)" font-size="12" fill="#00008b" stroke="#00008b" stroke-width="0.12" text-anchor="middle" textLength="103.3" lengthAdjust="spacingAndGlyphs">pion. rozciągł. chm.</text>
<text transform="translate(305.5,594.3) rotate(-90)" font-size="12" fill="#00008b" stroke="#00008b" stroke-width="0.12" text-anchor="middle" textLength="22.3" lengthAdjust="spacingAndGlyphs">(km)</text>
<text transform="translate(892.9,594.4) rotate(-90)" font-size="12" fill="#00008b" stroke="#00008b" stroke-width="0.12" text-anchor="middle" textLength="23.0" lengthAdjust="spacingAndGlyphs">(km)</text>
<text transform="translate(905.3,595.4) rotate(-90)" font-size="12" fill="#00008b" stroke="#00008b" stroke-width="0.12" text-anchor="middle" textLength="63.3" lengthAdjust="spacingAndGlyphs">widzialność</text>
<rect x="348.6" y="645.1" width="493.0" height="54.9" fill="#87d0fc"/>
<rect x="348.6" y="645.1" width="37.2" height="54.9" fill="#003a80" opacity="0.12"/>
<rect x="436.8" y="645.1" width="101.7" height="54.9" fill="#003a80" opacity="0.12"/>
<rect x="590.4" y="645.1" width="101.6" height="54.9" fill="#003a80" opacity="0.12"/>
<rect x="744.2" y="645.1" width="97.4" height="54.9" fill="#003a80" opacity="0.12"/>
<path d="M360,645.1L413.6,645.1L420.2,660L351.8,660Z" fill="#585858"/>
<path d="M775.5,660Q783,655.6 791.3,660Z" fill="#fff"/>
<rect x="808.1" y="650.8" width="3.0" height="20" fill="#ffb400"/>
<rect x="814.1" y="646.8" width="2.9" height="20" fill="#ffb400"/>
<rect x="820.4" y="646.8" width="2.8" height="20" fill="#ffb400"/>
<rect x="826.9" y="646.8" width="3.0" height="20" fill="#ffb400"/>
<rect x="832.9" y="647.8" width="2.9" height="20" fill="#ffb400"/>
<rect x="839.8" y="648.4" width="1.8" height="20" fill="#ffb400"/>
<path d="M361.5,645.1V700.0M380.5,645.1V700.0M399.5,645.1V700.0M418.5,645.1V700.0M438.5,645.1V700.0M457.5,645.1V700.0M476.5,645.1V700.0M495.5,645.1V700.0M514.5,645.1V700.0M534.5,645.1V700.0M553.5,645.1V700.0M572.5,645.1V700.0M591.5,645.1V700.0M610.5,645.1V700.0M630.5,645.1V700.0M649.5,645.1V700.0M668.5,645.1V700.0M687.5,645.1V700.0M706.5,645.1V700.0M726.5,645.1V700.0M745.5,645.1V700.0M764.5,645.1V700.0M783.5,645.1V700.0M802.5,645.1V700.0M822.5,645.1V700.0" stroke="#000" stroke-width="1" stroke-dasharray="2.3 2" fill="none" shape-rendering="crispEdges"/>
<rect x="348.6" y="645.1" width="493.0" height="54.9" fill="none" stroke="#000" stroke-width="1.2"/>
<text x="344.2" y="650.0" font-size="11" fill="#000" text-anchor="end" font-weight="normal"  stroke="#000" stroke-width="0.18">8</text>
<text x="845.0" y="650.0" font-size="11" fill="#ff8000" text-anchor="start" font-weight="normal"  stroke="#ff8000" stroke-width="0.18">1</text>
<text transform="translate(292.5,654.6) rotate(-90)" font-size="12" fill="#00008b" stroke="#00008b" stroke-width="0.12" text-anchor="end">zachmurzenie</text>
<defs>
<linearGradient id="gB" x1="0" y1="0" x2="1" y2="0">
<stop offset="0" stop-color="#124fa6"/><stop offset="0.30" stop-color="#1451a8"/><stop offset="0.42" stop-color="#2a69bb"/><stop offset="0.52" stop-color="#2e6cbc"/><stop offset="0.68" stop-color="#1a55ab"/><stop offset="0.85" stop-color="#0f469d"/><stop offset="1" stop-color="#0c4299"/>
</linearGradient>
<radialGradient id="gB2" cx="0.5" cy="0.5" r="0.5"><stop offset="0" stop-color="#3b78c4" stop-opacity="0.75"/><stop offset="1" stop-color="#3b78c4" stop-opacity="0"/></radialGradient>
<clipPath id="cBan"><rect x="280" y="0" width="630" height="120"/></clipPath>
</defs>
<g clip-path="url(#cBan)">
<rect x="280" y="0" width="630" height="120" fill="url(#gB)"/>
<ellipse cx="575" cy="35" rx="70" ry="70" fill="url(#gB2)"/>
<ellipse cx="720" cy="20" rx="90" ry="45" fill="url(#gB2)" opacity="0.7"/>
<ellipse cx="820" cy="45" rx="60" ry="30" fill="url(#gB2)" opacity="0.35"/>
<rect x="592.3" y="6.6" width="51.2" height="130" rx="8" fill="#2b2b2b"/>
<rect x="594.6" y="8.8" width="46.6" height="130" rx="6.5" fill="#050a12"/>
<path d="M594.6,57V15.3Q594.6,8.8 601.1,8.8H634.7Q641.2,8.8 641.2,15.3V57Z" fill="#0c1e46"/>
<rect x="614" y="12.2" width="14" height="4.6" rx="2.3" fill="#000"/>
<rect x="600" y="19.5" width="33" height="10" rx="1.5" fill="#050a14"/>
<circle cx="638.2" cy="27.5" r="2.8" fill="#050a14"/>
<text x="620.3" y="44.4" font-size="9" fill="#e8eefc" text-anchor="start" font-weight="normal"  stroke="#e8eefc" stroke-width="0.18">2.5°</text>
<circle cx="614.3" cy="39.6" r="2.8" fill="none" stroke="#6f8fd0" stroke-width="1"/>
<rect x="609" y="48.5" width="6" height="5" rx="1" fill="none" stroke="#3a5ea8" stroke-width="0.7"/><rect x="618.5" y="48.5" width="6" height="5" rx="1" fill="none" stroke="#3a5ea8" stroke-width="0.7"/>
<circle cx="604" cy="69.5" r="1.8" fill="none" stroke="#234a9a" stroke-width="0.8"/><circle cx="614" cy="69.5" r="1.8" fill="none" stroke="#234a9a" stroke-width="0.8"/>
<circle cx="604" cy="76.5" r="1.8" fill="none" stroke="#234a9a" stroke-width="0.8"/><circle cx="614" cy="76.5" r="1.8" fill="none" stroke="#234a9a" stroke-width="0.8"/>
<rect x="601.5" y="87.8" width="14" height="1.4" fill="#8a93a6" opacity="0.7"/>
<rect x="601.5" y="98.6" width="14" height="1.4" fill="#8a93a6" opacity="0.7"/>
<rect x="601.5" y="109.5" width="14" height="1.4" fill="#8a93a6" opacity="0.7"/>
<circle cx="620.5" cy="99" r="1.8" fill="none" stroke="#234a9a" stroke-width="0.8"/><circle cx="620.5" cy="110" r="1.8" fill="none" stroke="#234a9a" stroke-width="0.8"/>
<rect x="649.7" y="21.8" width="52" height="120" rx="8" fill="#3a3a36"/>
<rect x="652" y="24" width="47" height="120" rx="6.5" fill="#4e4e46"/>
<path d="M652,40H699V30.5Q699,24 692.5,24H658.5Q652,24 652,30.5Z" fill="#3c3e38"/>
<rect x="665" y="27" width="14" height="4.8" rx="2.4" fill="#0a0a0a"/>
<rect x="655" y="35.5" width="30" height="8.6" rx="1" fill="#b9b9b2"/>
<circle cx="689.5" cy="38.5" r="3.4" fill="#f4f4f0"/><circle cx="689.5" cy="38" r="1.3" fill="#44443e"/>
<path d="M676,50Q690,58 684,72Q676,84 690,95Q696,104 688,118" stroke="#8a8370" stroke-width="7" fill="none" opacity="0.4"/>
<path d="M672,62Q682,70 678,86Q674,100 682,112" stroke="#2e2f2b" stroke-width="5" fill="none" opacity="0.6"/>
<path d="M690,62l2,-2.4" stroke="#d8e86a" stroke-width="1.6"/>
<circle cx="663.5" cy="28.5" r="1.2" fill="#7ed321"/>
<rect x="687" y="97" width="5.4" height="21" fill="#d8d8cc" opacity="0.75"/>
<rect x="622.6" y="45.5" width="51.4" height="100" rx="8" fill="#1e1e1e"/>
<rect x="625" y="47.8" width="46.6" height="100" rx="6.5" fill="#fbfbfb"/>
<rect x="639.5" y="50.4" width="13.4" height="4.8" rx="2.4" fill="#050505"/>
<rect x="626.4" y="58" width="33.2" height="8" rx="1" fill="#222"/>
<circle cx="663.6" cy="60.6" r="2.9" fill="#222"/><circle cx="663.6" cy="60.6" r="1.1" fill="#eee"/>
<path d="M629,88L629,84Q636,86 640,83T652,81T664,80.5L664,88Z" fill="#6fb7d8"/>
<path d="M629,83.5Q636,86 640,82.5T652,80.5T664,80" stroke="#d24a4a" stroke-width="0.9" fill="none"/>
<path d="M629,86Q636,88 640,85T652,83.4T664,83" stroke="#3a55c8" stroke-width="0.8" fill="none"/>
<path d="M629,92Q633,90 636,99Q640,92 644,93T652,98T664,93" stroke="#e08060" stroke-width="0.8" fill="none"/>
<path d="M650,111l1.6,-7l1.6,7" stroke="#7cc67c" stroke-width="0.7" fill="none"/>
<path d="M629,78H664" stroke="#cfcfcf" stroke-width="0.5"/>
<path d="M629,90H664" stroke="#cfcfcf" stroke-width="0.5"/>
<path d="M629,101H664" stroke="#cfcfcf" stroke-width="0.5"/>
<path d="M629,113H664" stroke="#cfcfcf" stroke-width="0.5"/>
<path d="M640,76V114" stroke="#d8d8d8" stroke-width="0.5"/>
<path d="M652,76V114" stroke="#d8d8d8" stroke-width="0.5"/>
<rect x="629" y="114.5" width="35" height="6" fill="#c8e020"/><rect x="636" y="114.5" width="8" height="6" fill="#8ed428"/><rect x="652" y="114.5" width="5" height="6" fill="#e8e020"/>
<text x="311.4" y="39.7" font-size="19.6" fill="#ffffff" text-anchor="start" font-weight="normal" textLength="157.5" lengthAdjust="spacingAndGlyphs" >Oficjalna aplikacja</text>
<text x="311.4" y="67.3" font-size="19.6" fill="#fff"><tspan font-weight="bold" textLength="100" lengthAdjust="spacingAndGlyphs">Meteo ICM</tspan><tspan dx="5" textLength="104" lengthAdjust="spacingAndGlyphs">do pobrania</tspan></text>
<text x="311.4" y="95.2" font-size="19.6" fill="#ffffff" text-anchor="start" font-weight="normal" textLength="225.0" lengthAdjust="spacingAndGlyphs" >w Google Play i App Store</text>
<text x="763.7" y="91.0" font-size="21.5" fill="#ffffff" text-anchor="start" font-weight="bold" textLength="92.3" lengthAdjust="spacingAndGlyphs" stroke="#fff" stroke-width="0.45">icmmeteo</text>
<path d="M771.6,67.2Q758.5,68.6 757,75.5Q761,70.2 771.6,68.8Z" fill="#fff"/>
<path d="M771,67.4Q774.6,71.5 772.6,78.5Q772.6,72 770,68.4Z" fill="#fff"/>
<path d="M751.8,86.5Q751,98.6 758.5,99Q764,98 767.6,92.6Q761.5,97.4 757.6,96.2Q752.6,94.4 751.8,86.5Z" fill="#fff"/>
<rect x="860.4" y="72.6" width="25.5" height="25.5" rx="2" fill="#fff"/>
<text x="864.6" y="91.3" font-size="14.4" fill="#1450a8" text-anchor="start" font-weight="bold" textLength="11.6" lengthAdjust="spacingAndGlyphs"  stroke="#1450a8" stroke-width="0.18">M</text>
<circle cx="880.2" cy="80" r="1.6" fill="none" stroke="#1450a8" stroke-width="1.1"/>
</g>
</svg>
</body></html>
